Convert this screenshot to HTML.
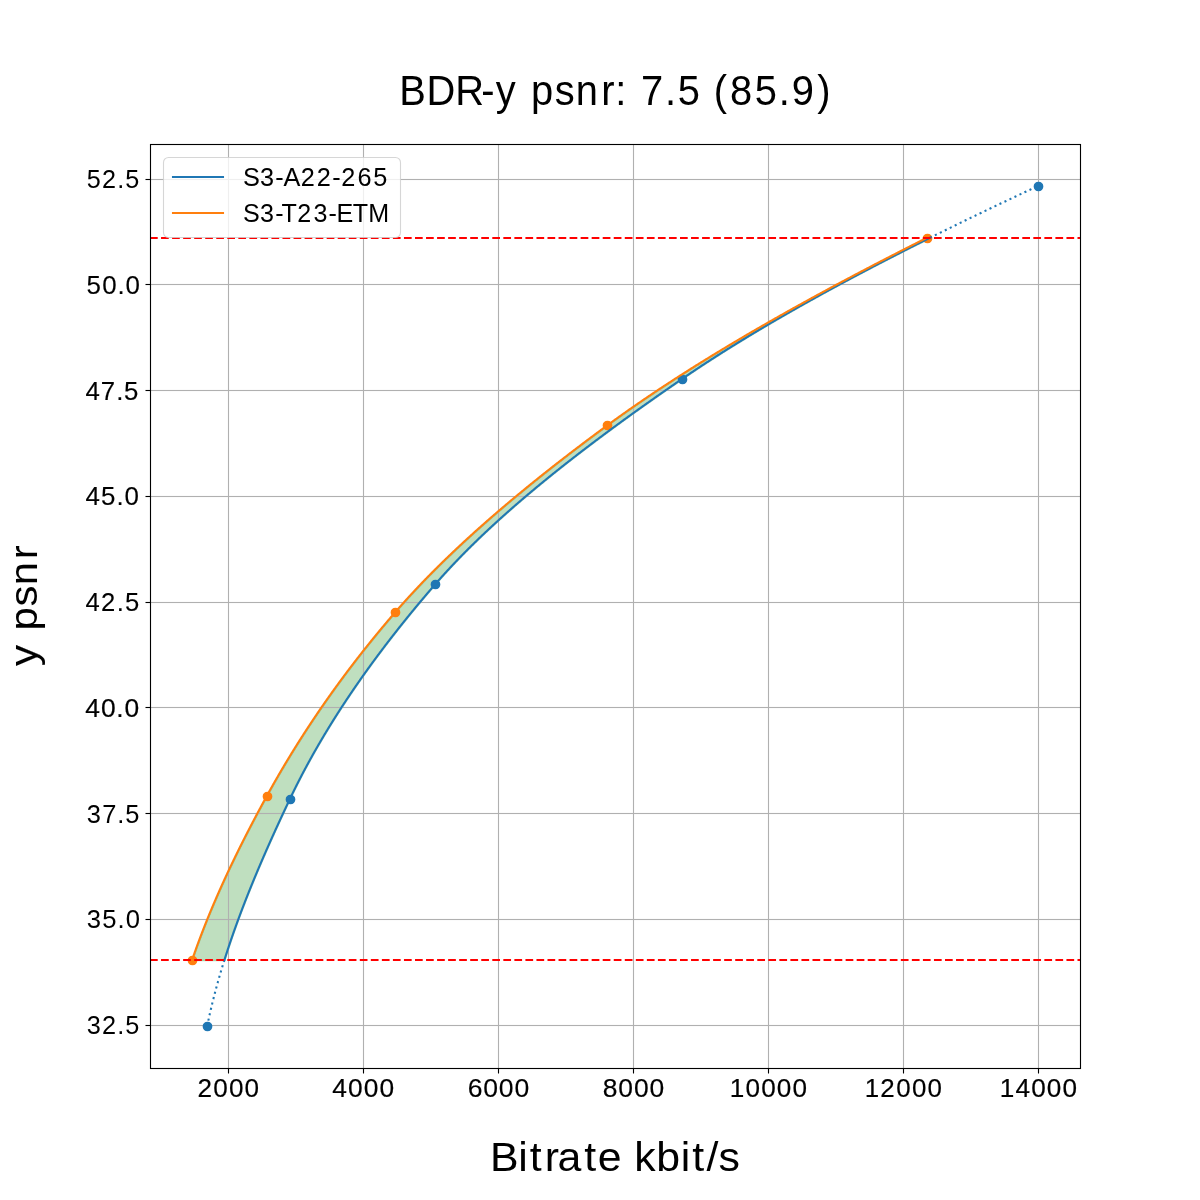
<!DOCTYPE html>
<html><head><meta charset="utf-8"><title>BDR-y psnr</title>
<style>html,body{margin:0;padding:0;background:#fff;} svg{display:block;will-change:transform;} text{font-family:"Liberation Sans", sans-serif;fill:#000;}</style>
</head><body>
<svg width="1200" height="1200" viewBox="0 0 1200 1200">
<defs><clipPath id="ax"><rect x="150" y="144" width="930" height="924"/></clipPath></defs>
<rect width="1200" height="1200" fill="#fff"/>
<path transform="translate(0.5 0.5)" fill="#008000" fill-opacity="0.25" stroke="#008000" stroke-opacity="0.25" stroke-width="1.3889" d="M224.39 960.03 L224.58 959.42 L224.77 958.82 L224.96 958.22 L225.15 957.62 L225.34 957.01 L225.53 956.41 L225.72 955.81 L225.91 955.21 L226.11 954.6 L226.3 954 L226.49 953.4 L226.69 952.8 L226.88 952.19 L227.08 951.59 L227.28 950.99 L227.47 950.39 L227.67 949.79 L227.87 949.18 L228.07 948.58 L228.27 947.98 L228.47 947.38 L228.67 946.77 L228.87 946.17 L229.07 945.57 L229.27 944.97 L229.47 944.36 L229.67 943.76 L229.87 943.16 L230.08 942.56 L230.28 941.95 L230.49 941.35 L230.69 940.75 L230.9 940.15 L231.1 939.54 L231.31 938.94 L231.52 938.34 L231.72 937.74 L231.93 937.14 L232.14 936.53 L232.35 935.93 L232.56 935.33 L232.77 934.73 L232.98 934.12 L233.19 933.52 L233.4 932.92 L233.61 932.32 L233.82 931.71 L234.04 931.11 L234.25 930.51 L234.46 929.91 L234.68 929.3 L234.89 928.7 L235.11 928.1 L235.32 927.5 L235.54 926.9 L235.75 926.29 L235.97 925.69 L236.19 925.09 L236.41 924.49 L236.62 923.88 L236.84 923.28 L237.06 922.68 L237.28 922.08 L237.5 921.47 L237.72 920.87 L237.94 920.27 L238.16 919.67 L238.39 919.06 L238.61 918.46 L238.83 917.86 L239.05 917.26 L239.28 916.65 L239.5 916.05 L239.73 915.45 L239.95 914.85 L240.18 914.25 L240.4 913.64 L240.63 913.04 L240.85 912.44 L241.08 911.84 L241.31 911.23 L241.54 910.63 L241.77 910.03 L241.99 909.43 L242.22 908.82 L242.45 908.22 L242.68 907.62 L242.91 907.02 L243.15 906.41 L243.38 905.81 L243.61 905.21 L243.84 904.61 L244.07 904.01 L244.31 903.4 L244.54 902.8 L244.77 902.2 L245.01 901.6 L245.24 900.99 L245.48 900.39 L245.71 899.79 L245.95 899.19 L246.19 898.58 L246.42 897.98 L246.66 897.38 L246.9 896.78 L247.14 896.17 L247.37 895.57 L247.61 894.97 L247.85 894.37 L248.09 893.77 L248.33 893.16 L248.57 892.56 L248.81 891.96 L249.05 891.36 L249.29 890.75 L249.54 890.15 L249.78 889.55 L250.02 888.95 L250.26 888.34 L250.51 887.74 L250.75 887.14 L251 886.54 L251.24 885.93 L251.49 885.33 L251.73 884.73 L251.98 884.13 L252.22 883.52 L252.47 882.92 L252.72 882.32 L252.96 881.72 L253.21 881.12 L253.46 880.51 L253.71 879.91 L253.96 879.31 L254.2 878.71 L254.45 878.1 L254.7 877.5 L254.95 876.9 L255.2 876.3 L255.45 875.69 L255.71 875.09 L255.96 874.49 L256.21 873.89 L256.46 873.28 L256.71 872.68 L256.97 872.08 L257.22 871.48 L257.47 870.88 L257.73 870.27 L257.98 869.67 L258.24 869.07 L258.49 868.47 L258.75 867.86 L259 867.26 L259.26 866.66 L259.52 866.06 L259.77 865.45 L260.03 864.85 L260.29 864.25 L260.54 863.65 L260.8 863.04 L261.06 862.44 L261.32 861.84 L261.58 861.24 L261.84 860.64 L262.1 860.03 L262.36 859.43 L262.62 858.83 L262.88 858.23 L263.14 857.62 L263.4 857.02 L263.66 856.42 L263.92 855.82 L264.19 855.21 L264.45 854.61 L264.71 854.01 L264.97 853.41 L265.24 852.8 L265.5 852.2 L265.77 851.6 L266.03 851 L266.29 850.39 L266.56 849.79 L266.82 849.19 L267.09 848.59 L267.36 847.99 L267.62 847.38 L267.89 846.78 L268.16 846.18 L268.42 845.58 L268.69 844.97 L268.96 844.37 L269.23 843.77 L269.49 843.17 L269.76 842.56 L270.03 841.96 L270.3 841.36 L270.57 840.76 L270.84 840.15 L271.11 839.55 L271.38 838.95 L271.65 838.35 L271.92 837.75 L272.19 837.14 L272.46 836.54 L272.73 835.94 L273.01 835.34 L273.28 834.73 L273.55 834.13 L273.82 833.53 L274.1 832.93 L274.37 832.32 L274.64 831.72 L274.92 831.12 L275.19 830.52 L275.46 829.91 L275.74 829.31 L276.01 828.71 L276.29 828.11 L276.56 827.51 L276.84 826.9 L277.12 826.3 L277.39 825.7 L277.67 825.1 L277.94 824.49 L278.22 823.89 L278.5 823.29 L278.78 822.69 L279.05 822.08 L279.33 821.48 L279.61 820.88 L279.89 820.28 L280.17 819.67 L280.44 819.07 L280.72 818.47 L281 817.87 L281.28 817.26 L281.56 816.66 L281.84 816.06 L282.12 815.46 L282.4 814.86 L282.68 814.25 L282.96 813.65 L283.24 813.05 L283.53 812.45 L283.81 811.84 L284.09 811.24 L284.37 810.64 L284.65 810.04 L284.94 809.43 L285.22 808.83 L285.5 808.23 L285.78 807.63 L286.07 807.02 L286.35 806.42 L286.63 805.82 L286.92 805.22 L287.2 804.62 L287.49 804.01 L287.77 803.41 L288.06 802.81 L288.34 802.21 L288.62 801.6 L288.91 801 L289.2 800.4 L289.48 799.8 L289.77 799.19 L290.05 798.59 L290.34 797.99 L290.63 797.39 L290.92 796.78 L291.21 796.18 L291.49 795.58 L291.79 794.98 L292.08 794.37 L292.37 793.77 L292.66 793.17 L292.95 792.57 L293.25 791.97 L293.54 791.36 L293.84 790.76 L294.13 790.16 L294.43 789.56 L294.73 788.95 L295.03 788.35 L295.33 787.75 L295.63 787.15 L295.93 786.54 L296.23 785.94 L296.53 785.34 L296.83 784.74 L297.14 784.13 L297.44 783.53 L297.74 782.93 L298.05 782.33 L298.36 781.73 L298.66 781.12 L298.97 780.52 L299.28 779.92 L299.59 779.32 L299.9 778.71 L300.21 778.11 L300.52 777.51 L300.83 776.91 L301.14 776.3 L301.46 775.7 L301.77 775.1 L302.09 774.5 L302.4 773.89 L302.72 773.29 L303.03 772.69 L303.35 772.09 L303.67 771.49 L303.99 770.88 L304.31 770.28 L304.63 769.68 L304.95 769.08 L305.27 768.47 L305.59 767.87 L305.92 767.27 L306.24 766.67 L306.57 766.06 L306.89 765.46 L307.22 764.86 L307.54 764.26 L307.87 763.65 L308.2 763.05 L308.53 762.45 L308.86 761.85 L309.19 761.24 L309.52 760.64 L309.85 760.04 L310.18 759.44 L310.51 758.84 L310.85 758.23 L311.18 757.63 L311.52 757.03 L311.85 756.43 L312.19 755.82 L312.53 755.22 L312.86 754.62 L313.2 754.02 L313.54 753.41 L313.88 752.81 L314.22 752.21 L314.56 751.61 L314.91 751 L315.25 750.4 L315.59 749.8 L315.94 749.2 L316.28 748.6 L316.63 747.99 L316.97 747.39 L317.32 746.79 L317.67 746.19 L318.02 745.58 L318.36 744.98 L318.71 744.38 L319.06 743.78 L319.42 743.17 L319.77 742.57 L320.12 741.97 L320.47 741.37 L320.83 740.76 L321.18 740.16 L321.54 739.56 L321.89 738.96 L322.25 738.36 L322.61 737.75 L322.96 737.15 L323.32 736.55 L323.68 735.95 L324.04 735.34 L324.4 734.74 L324.76 734.14 L325.13 733.54 L325.49 732.93 L325.85 732.33 L326.22 731.73 L326.58 731.13 L326.95 730.52 L327.31 729.92 L327.68 729.32 L328.05 728.72 L328.42 728.11 L328.78 727.51 L329.15 726.91 L329.52 726.31 L329.9 725.71 L330.27 725.1 L330.64 724.5 L331.01 723.9 L331.39 723.3 L331.76 722.69 L332.14 722.09 L332.51 721.49 L332.89 720.89 L333.26 720.28 L333.64 719.68 L334.02 719.08 L334.4 718.48 L334.78 717.87 L335.16 717.27 L335.54 716.67 L335.92 716.07 L336.31 715.47 L336.69 714.86 L337.07 714.26 L337.46 713.66 L337.84 713.06 L338.23 712.45 L338.61 711.85 L339 711.25 L339.39 710.65 L339.78 710.04 L340.17 709.44 L340.56 708.84 L340.95 708.24 L341.34 707.63 L341.73 707.03 L342.12 706.43 L342.52 705.83 L342.91 705.23 L343.31 704.62 L343.7 704.02 L344.1 703.42 L344.49 702.82 L344.89 702.21 L345.29 701.61 L345.69 701.01 L346.09 700.41 L346.49 699.8 L346.89 699.2 L347.29 698.6 L347.69 698 L348.09 697.39 L348.5 696.79 L348.9 696.19 L349.31 695.59 L349.71 694.98 L350.12 694.38 L350.52 693.78 L350.93 693.18 L351.34 692.58 L351.75 691.97 L352.16 691.37 L352.57 690.77 L352.98 690.17 L353.39 689.56 L353.8 688.96 L354.21 688.36 L354.63 687.76 L355.04 687.15 L355.45 686.55 L355.87 685.95 L356.29 685.35 L356.7 684.74 L357.12 684.14 L357.54 683.54 L357.96 682.94 L358.38 682.34 L358.8 681.73 L359.22 681.13 L359.64 680.53 L360.06 679.93 L360.48 679.32 L360.9 678.72 L361.33 678.12 L361.75 677.52 L362.18 676.91 L362.6 676.31 L363.03 675.71 L363.46 675.11 L363.89 674.5 L364.31 673.9 L364.74 673.3 L365.17 672.7 L365.6 672.09 L366.03 671.49 L366.47 670.89 L366.9 670.29 L367.33 669.69 L367.76 669.08 L368.2 668.48 L368.63 667.88 L369.07 667.28 L369.51 666.67 L369.94 666.07 L370.38 665.47 L370.82 664.87 L371.26 664.26 L371.7 663.66 L372.14 663.06 L372.58 662.46 L373.02 661.85 L373.46 661.25 L373.9 660.65 L374.35 660.05 L374.79 659.45 L375.24 658.84 L375.68 658.24 L376.13 657.64 L376.57 657.04 L377.02 656.43 L377.47 655.83 L377.92 655.23 L378.37 654.63 L378.82 654.02 L379.27 653.42 L379.72 652.82 L380.17 652.22 L380.62 651.61 L381.08 651.01 L381.53 650.41 L381.98 649.81 L382.44 649.21 L382.9 648.6 L383.35 648 L383.81 647.4 L384.27 646.8 L384.72 646.19 L385.18 645.59 L385.64 644.99 L386.1 644.39 L386.56 643.78 L387.03 643.18 L387.49 642.58 L387.95 641.98 L388.41 641.37 L388.88 640.77 L389.34 640.17 L389.81 639.57 L390.27 638.96 L390.74 638.36 L391.21 637.76 L391.68 637.16 L392.14 636.56 L392.61 635.95 L393.08 635.35 L393.55 634.75 L394.02 634.15 L394.5 633.54 L394.97 632.94 L395.44 632.34 L395.91 631.74 L396.39 631.13 L396.86 630.53 L397.34 629.93 L397.81 629.33 L398.29 628.72 L398.77 628.12 L399.25 627.52 L399.72 626.92 L400.2 626.32 L400.68 625.71 L401.16 625.11 L401.65 624.51 L402.13 623.91 L402.61 623.3 L403.09 622.7 L403.58 622.1 L404.06 621.5 L404.55 620.89 L405.03 620.29 L405.52 619.69 L406 619.09 L406.49 618.48 L406.98 617.88 L407.47 617.28 L407.96 616.68 L408.45 616.08 L408.94 615.47 L409.43 614.87 L409.92 614.27 L410.41 613.67 L410.91 613.06 L411.4 612.46 L411.89 611.86 L412.39 611.26 L412.88 610.65 L413.38 610.05 L413.88 609.45 L414.37 608.85 L414.87 608.24 L415.37 607.64 L415.87 607.04 L416.37 606.44 L416.87 605.83 L417.37 605.23 L417.87 604.63 L418.38 604.03 L418.88 603.43 L419.38 602.82 L419.89 602.22 L420.39 601.62 L420.9 601.02 L421.4 600.41 L421.91 599.81 L422.42 599.21 L422.92 598.61 L423.43 598 L423.94 597.4 L424.45 596.8 L424.96 596.2 L425.47 595.59 L425.98 594.99 L426.5 594.39 L427.01 593.79 L427.52 593.19 L428.04 592.58 L428.55 591.98 L429.07 591.38 L429.58 590.78 L430.1 590.17 L430.62 589.57 L431.13 588.97 L431.65 588.37 L432.17 587.76 L432.69 587.16 L433.21 586.56 L433.73 585.96 L434.25 585.35 L434.77 584.75 L435.3 584.15 L435.82 583.55 L436.35 582.94 L436.87 582.34 L437.4 581.74 L437.93 581.14 L438.46 580.54 L438.99 579.93 L439.53 579.33 L440.06 578.73 L440.6 578.13 L441.14 577.52 L441.68 576.92 L442.22 576.32 L442.76 575.72 L443.3 575.11 L443.85 574.51 L444.39 573.91 L444.94 573.31 L445.49 572.7 L446.04 572.1 L446.6 571.5 L447.15 570.9 L447.7 570.3 L448.26 569.69 L448.82 569.09 L449.38 568.49 L449.94 567.89 L450.5 567.28 L451.06 566.68 L451.63 566.08 L452.19 565.48 L452.76 564.87 L453.33 564.27 L453.9 563.67 L454.47 563.07 L455.05 562.46 L455.62 561.86 L456.2 561.26 L456.77 560.66 L457.35 560.06 L457.93 559.45 L458.51 558.85 L459.1 558.25 L459.68 557.65 L460.27 557.04 L460.85 556.44 L461.44 555.84 L462.03 555.24 L462.62 554.63 L463.21 554.03 L463.81 553.43 L464.4 552.83 L465 552.22 L465.59 551.62 L466.19 551.02 L466.79 550.42 L467.39 549.81 L468 549.21 L468.6 548.61 L469.2 548.01 L469.81 547.41 L470.42 546.8 L471.03 546.2 L471.64 545.6 L472.25 545 L472.86 544.39 L473.48 543.79 L474.09 543.19 L474.71 542.59 L475.33 541.98 L475.95 541.38 L476.57 540.78 L477.19 540.18 L477.82 539.57 L478.44 538.97 L479.07 538.37 L479.69 537.77 L480.32 537.17 L480.95 536.56 L481.58 535.96 L482.21 535.36 L482.85 534.76 L483.48 534.15 L484.12 533.55 L484.76 532.95 L485.39 532.35 L486.03 531.74 L486.68 531.14 L487.32 530.54 L487.96 529.94 L488.61 529.33 L489.25 528.73 L489.9 528.13 L490.55 527.53 L491.2 526.93 L491.85 526.32 L492.5 525.72 L493.15 525.12 L493.81 524.52 L494.46 523.91 L495.12 523.31 L495.78 522.71 L496.44 522.11 L497.1 521.5 L497.76 520.9 L498.42 520.3 L499.09 519.7 L499.75 519.09 L500.42 518.49 L501.09 517.89 L501.76 517.29 L502.43 516.68 L503.1 516.08 L503.77 515.48 L504.45 514.88 L505.12 514.28 L505.8 513.67 L506.47 513.07 L507.15 512.47 L507.83 511.87 L508.51 511.26 L509.2 510.66 L509.88 510.06 L510.56 509.46 L511.25 508.85 L511.93 508.25 L512.62 507.65 L513.31 507.05 L514 506.44 L514.69 505.84 L515.38 505.24 L516.08 504.64 L516.77 504.04 L517.47 503.43 L518.17 502.83 L518.86 502.23 L519.56 501.63 L520.26 501.02 L520.96 500.42 L521.67 499.82 L522.37 499.22 L523.08 498.61 L523.78 498.01 L524.49 497.41 L525.2 496.81 L525.91 496.2 L526.62 495.6 L527.33 495 L528.04 494.4 L528.75 493.8 L529.47 493.19 L530.18 492.59 L530.9 491.99 L531.62 491.39 L532.34 490.78 L533.06 490.18 L533.78 489.58 L534.5 488.98 L535.22 488.37 L535.95 487.77 L536.67 487.17 L537.4 486.57 L538.13 485.96 L538.86 485.36 L539.59 484.76 L540.32 484.16 L541.05 483.55 L541.78 482.95 L542.52 482.35 L543.25 481.75 L543.99 481.15 L544.72 480.54 L545.46 479.94 L546.2 479.34 L546.94 478.74 L547.68 478.13 L548.43 477.53 L549.17 476.93 L549.91 476.33 L550.66 475.72 L551.4 475.12 L552.15 474.52 L552.9 473.92 L553.65 473.31 L554.4 472.71 L555.15 472.11 L555.9 471.51 L556.66 470.91 L557.41 470.3 L558.17 469.7 L558.92 469.1 L559.68 468.5 L560.44 467.89 L561.2 467.29 L561.96 466.69 L562.72 466.09 L563.48 465.48 L564.25 464.88 L565.01 464.28 L565.78 463.68 L566.54 463.07 L567.31 462.47 L568.08 461.87 L568.85 461.27 L569.62 460.66 L570.39 460.06 L571.16 459.46 L571.93 458.86 L572.71 458.26 L573.48 457.65 L574.26 457.05 L575.04 456.45 L575.81 455.85 L576.59 455.24 L577.37 454.64 L578.15 454.04 L578.93 453.44 L579.72 452.83 L580.5 452.23 L581.29 451.63 L582.07 451.03 L582.86 450.42 L583.64 449.82 L584.43 449.22 L585.22 448.62 L586.01 448.02 L586.8 447.41 L587.59 446.81 L588.39 446.21 L589.18 445.61 L589.97 445 L590.77 444.4 L591.57 443.8 L592.36 443.2 L593.16 442.59 L593.96 441.99 L594.76 441.39 L595.56 440.79 L596.36 440.18 L597.16 439.58 L597.97 438.98 L598.77 438.38 L599.58 437.78 L600.38 437.17 L601.19 436.57 L602 435.97 L602.8 435.37 L603.61 434.76 L604.42 434.16 L605.24 433.56 L606.05 432.96 L606.86 432.35 L607.67 431.75 L608.49 431.15 L609.3 430.55 L610.12 429.94 L610.94 429.34 L611.75 428.74 L612.57 428.14 L613.39 427.53 L614.21 426.93 L615.03 426.33 L615.86 425.73 L616.68 425.13 L617.5 424.52 L618.33 423.92 L619.15 423.32 L619.98 422.72 L620.8 422.11 L621.63 421.51 L622.46 420.91 L623.29 420.31 L624.12 419.7 L624.95 419.1 L625.78 418.5 L626.62 417.9 L627.45 417.29 L628.28 416.69 L629.12 416.09 L629.95 415.49 L630.79 414.89 L631.63 414.28 L632.46 413.68 L633.3 413.08 L634.14 412.48 L634.98 411.87 L635.82 411.27 L636.67 410.67 L637.51 410.07 L638.35 409.46 L639.2 408.86 L640.04 408.26 L640.89 407.66 L641.73 407.05 L642.58 406.45 L643.43 405.85 L644.28 405.25 L645.13 404.65 L645.98 404.04 L646.83 403.44 L647.68 402.84 L648.53 402.24 L649.38 401.63 L650.24 401.03 L651.09 400.43 L651.95 399.83 L652.8 399.22 L653.66 398.62 L654.52 398.02 L655.37 397.42 L656.23 396.81 L657.09 396.21 L657.95 395.61 L658.81 395.01 L659.67 394.4 L660.54 393.8 L661.4 393.2 L662.26 392.6 L663.13 392 L663.99 391.39 L664.86 390.79 L665.72 390.19 L666.59 389.59 L667.46 388.98 L668.33 388.38 L669.2 387.78 L670.07 387.18 L670.94 386.57 L671.81 385.97 L672.68 385.37 L673.55 384.77 L674.42 384.16 L675.3 383.56 L676.17 382.96 L677.05 382.36 L677.92 381.76 L678.8 381.15 L679.68 380.55 L680.55 379.95 L681.43 379.35 L682.31 378.74 L683.19 378.14 L684.07 377.54 L684.96 376.94 L685.84 376.33 L686.73 375.73 L687.62 375.13 L688.51 374.53 L689.4 373.92 L690.3 373.32 L691.19 372.72 L692.09 372.12 L692.99 371.52 L693.89 370.91 L694.79 370.31 L695.7 369.71 L696.6 369.11 L697.51 368.5 L698.42 367.9 L699.33 367.3 L700.25 366.7 L701.16 366.09 L702.08 365.49 L702.99 364.89 L703.91 364.29 L704.84 363.68 L705.76 363.08 L706.68 362.48 L707.61 361.88 L708.54 361.27 L709.47 360.67 L710.4 360.07 L711.33 359.47 L712.26 358.87 L713.2 358.26 L714.14 357.66 L715.08 357.06 L716.02 356.46 L716.96 355.85 L717.91 355.25 L718.85 354.65 L719.8 354.05 L720.75 353.44 L721.7 352.84 L722.65 352.24 L723.61 351.64 L724.56 351.03 L725.52 350.43 L726.48 349.83 L727.44 349.23 L728.4 348.63 L729.36 348.02 L730.33 347.42 L731.3 346.82 L732.27 346.22 L733.24 345.61 L734.21 345.01 L735.18 344.41 L736.15 343.81 L737.13 343.2 L738.11 342.6 L739.09 342 L740.07 341.4 L741.05 340.79 L742.04 340.19 L743.02 339.59 L744.01 338.99 L745 338.38 L745.99 337.78 L746.98 337.18 L747.98 336.58 L748.97 335.98 L749.97 335.37 L750.97 334.77 L751.97 334.17 L752.97 333.57 L753.97 332.96 L754.97 332.36 L755.98 331.76 L756.99 331.16 L758 330.55 L759.01 329.95 L760.02 329.35 L761.03 328.75 L762.05 328.14 L763.06 327.54 L764.08 326.94 L765.1 326.34 L766.12 325.74 L767.15 325.13 L768.17 324.53 L769.2 323.93 L770.22 323.33 L771.25 322.72 L772.28 322.12 L773.31 321.52 L774.35 320.92 L775.38 320.31 L776.42 319.71 L777.45 319.11 L778.49 318.51 L779.53 317.9 L780.58 317.3 L781.62 316.7 L782.66 316.1 L783.71 315.5 L784.76 314.89 L785.81 314.29 L786.86 313.69 L787.91 313.09 L788.96 312.48 L790.02 311.88 L791.07 311.28 L792.13 310.68 L793.19 310.07 L794.25 309.47 L795.31 308.87 L796.38 308.27 L797.44 307.66 L798.51 307.06 L799.58 306.46 L800.65 305.86 L801.72 305.25 L802.79 304.65 L803.86 304.05 L804.94 303.45 L806.01 302.85 L807.09 302.24 L808.17 301.64 L809.25 301.04 L810.33 300.44 L811.42 299.83 L812.5 299.23 L813.59 298.63 L814.67 298.03 L815.76 297.42 L816.85 296.82 L817.94 296.22 L819.04 295.62 L820.13 295.01 L821.23 294.41 L822.32 293.81 L823.42 293.21 L824.52 292.61 L825.62 292 L826.73 291.4 L827.83 290.8 L828.94 290.2 L830.04 289.59 L831.15 288.99 L832.26 288.39 L833.37 287.79 L834.48 287.18 L835.59 286.58 L836.71 285.98 L837.83 285.38 L838.94 284.77 L840.06 284.17 L841.18 283.57 L842.3 282.97 L843.42 282.37 L844.55 281.76 L845.67 281.16 L846.8 280.56 L847.93 279.96 L849.06 279.35 L850.19 278.75 L851.32 278.15 L852.45 277.55 L853.59 276.94 L854.72 276.34 L855.86 275.74 L857 275.14 L858.14 274.53 L859.28 273.93 L860.42 273.33 L861.56 272.73 L862.71 272.12 L863.85 271.52 L865 270.92 L866.15 270.32 L867.3 269.72 L868.45 269.11 L869.6 268.51 L870.75 267.91 L871.91 267.31 L873.06 266.7 L874.22 266.1 L875.38 265.5 L876.54 264.9 L877.7 264.29 L878.86 263.69 L880.02 263.09 L881.19 262.49 L882.35 261.88 L883.52 261.28 L884.69 260.68 L885.86 260.08 L887.03 259.48 L888.2 258.87 L889.37 258.27 L890.55 257.67 L891.72 257.07 L892.9 256.46 L894.07 255.86 L895.25 255.26 L896.43 254.66 L897.62 254.05 L898.8 253.45 L899.98 252.85 L901.17 252.25 L902.35 251.64 L903.54 251.04 L904.73 250.44 L905.92 249.84 L907.11 249.23 L908.3 248.63 L909.49 248.03 L910.69 247.43 L911.88 246.83 L913.08 246.22 L914.28 245.62 L915.48 245.02 L916.68 244.42 L917.88 243.81 L919.08 243.21 L920.28 242.61 L921.49 242.01 L922.69 241.4 L923.9 240.8 L925.11 240.2 L926.32 239.6 L927.53 238.99 L928.74 238.39 L929.95 237.79 L926.89 237.79 L925.69 238.39 L924.49 238.99 L923.3 239.6 L922.1 240.2 L920.91 240.8 L919.72 241.4 L918.52 242.01 L917.33 242.61 L916.14 243.21 L914.95 243.81 L913.76 244.42 L912.57 245.02 L911.39 245.62 L910.2 246.22 L909.02 246.83 L907.83 247.43 L906.65 248.03 L905.47 248.63 L904.28 249.23 L903.1 249.84 L901.92 250.44 L900.74 251.04 L899.57 251.64 L898.39 252.25 L897.21 252.85 L896.04 253.45 L894.86 254.05 L893.69 254.66 L892.52 255.26 L891.35 255.86 L890.18 256.46 L889.01 257.07 L887.84 257.67 L886.67 258.27 L885.51 258.87 L884.34 259.48 L883.18 260.08 L882.01 260.68 L880.85 261.28 L879.69 261.88 L878.53 262.49 L877.37 263.09 L876.21 263.69 L875.05 264.29 L873.89 264.9 L872.74 265.5 L871.58 266.1 L870.43 266.7 L869.28 267.31 L868.12 267.91 L866.97 268.51 L865.82 269.11 L864.67 269.72 L863.53 270.32 L862.38 270.92 L861.23 271.52 L860.09 272.12 L858.94 272.73 L857.8 273.33 L856.66 273.93 L855.52 274.53 L854.38 275.14 L853.24 275.74 L852.1 276.34 L850.97 276.94 L849.83 277.55 L848.69 278.15 L847.56 278.75 L846.43 279.35 L845.3 279.96 L844.17 280.56 L843.04 281.16 L841.91 281.76 L840.78 282.37 L839.65 282.97 L838.53 283.57 L837.4 284.17 L836.28 284.77 L835.16 285.38 L834.04 285.98 L832.92 286.58 L831.8 287.18 L830.68 287.79 L829.56 288.39 L828.44 288.99 L827.33 289.59 L826.22 290.2 L825.1 290.8 L823.99 291.4 L822.88 292 L821.77 292.61 L820.66 293.21 L819.56 293.81 L818.45 294.41 L817.34 295.01 L816.24 295.62 L815.14 296.22 L814.03 296.82 L812.93 297.42 L811.83 298.03 L810.73 298.63 L809.64 299.23 L808.54 299.83 L807.44 300.44 L806.35 301.04 L805.26 301.64 L804.16 302.24 L803.07 302.85 L801.98 303.45 L800.89 304.05 L799.81 304.65 L798.72 305.25 L797.64 305.86 L796.55 306.46 L795.47 307.06 L794.39 307.66 L793.3 308.27 L792.22 308.87 L791.15 309.47 L790.07 310.07 L788.99 310.68 L787.92 311.28 L786.84 311.88 L785.77 312.48 L784.7 313.09 L783.63 313.69 L782.56 314.29 L781.49 314.89 L780.42 315.5 L779.36 316.1 L778.29 316.7 L777.23 317.3 L776.16 317.9 L775.1 318.51 L774.04 319.11 L772.98 319.71 L771.93 320.31 L770.87 320.92 L769.81 321.52 L768.76 322.12 L767.71 322.72 L766.65 323.33 L765.6 323.93 L764.55 324.53 L763.5 325.13 L762.46 325.74 L761.41 326.34 L760.37 326.94 L759.32 327.54 L758.28 328.14 L757.24 328.75 L756.2 329.35 L755.16 329.95 L754.12 330.55 L753.09 331.16 L752.05 331.76 L751.02 332.36 L749.98 332.96 L748.95 333.57 L747.92 334.17 L746.89 334.77 L745.86 335.37 L744.84 335.98 L743.81 336.58 L742.79 337.18 L741.76 337.78 L740.74 338.38 L739.72 338.99 L738.7 339.59 L737.68 340.19 L736.67 340.79 L735.65 341.4 L734.64 342 L733.62 342.6 L732.61 343.2 L731.6 343.81 L730.59 344.41 L729.59 345.01 L728.58 345.61 L727.57 346.22 L726.57 346.82 L725.57 347.42 L724.56 348.02 L723.56 348.63 L722.56 349.23 L721.57 349.83 L720.57 350.43 L719.57 351.03 L718.58 351.64 L717.59 352.24 L716.6 352.84 L715.61 353.44 L714.62 354.05 L713.63 354.65 L712.64 355.25 L711.66 355.85 L710.67 356.46 L709.69 357.06 L708.71 357.66 L707.73 358.26 L706.75 358.87 L705.77 359.47 L704.8 360.07 L703.82 360.67 L702.85 361.27 L701.88 361.88 L700.91 362.48 L699.94 363.08 L698.97 363.68 L698 364.29 L697.04 364.89 L696.07 365.49 L695.11 366.09 L694.15 366.7 L693.19 367.3 L692.23 367.9 L691.27 368.5 L690.32 369.11 L689.36 369.71 L688.41 370.31 L687.46 370.91 L686.51 371.52 L685.56 372.12 L684.61 372.72 L683.66 373.32 L682.72 373.92 L681.77 374.53 L680.83 375.13 L679.89 375.73 L678.95 376.33 L678.01 376.94 L677.08 377.54 L676.14 378.14 L675.21 378.74 L674.27 379.35 L673.34 379.95 L672.41 380.55 L671.48 381.15 L670.56 381.76 L669.63 382.36 L668.7 382.96 L667.78 383.56 L666.86 384.16 L665.94 384.77 L665.02 385.37 L664.1 385.97 L663.19 386.57 L662.27 387.18 L661.36 387.78 L660.45 388.38 L659.54 388.98 L658.63 389.59 L657.72 390.19 L656.81 390.79 L655.91 391.39 L655 392 L654.1 392.6 L653.2 393.2 L652.3 393.8 L651.41 394.4 L650.51 395.01 L649.61 395.61 L648.72 396.21 L647.83 396.81 L646.94 397.42 L646.05 398.02 L645.16 398.62 L644.28 399.22 L643.39 399.83 L642.51 400.43 L641.63 401.03 L640.75 401.63 L639.87 402.24 L638.99 402.84 L638.11 403.44 L637.24 404.04 L636.37 404.65 L635.49 405.25 L634.62 405.85 L633.75 406.45 L632.89 407.05 L632.02 407.66 L631.16 408.26 L630.3 408.86 L629.43 409.46 L628.57 410.07 L627.72 410.67 L626.86 411.27 L626 411.87 L625.15 412.48 L624.3 413.08 L623.45 413.68 L622.6 414.28 L621.75 414.89 L620.9 415.49 L620.06 416.09 L619.22 416.69 L618.37 417.29 L617.53 417.9 L616.69 418.5 L615.86 419.1 L615.02 419.7 L614.19 420.31 L613.36 420.91 L612.52 421.51 L611.69 422.11 L610.87 422.72 L610.04 423.32 L609.21 423.92 L608.39 424.52 L607.57 425.13 L606.75 425.73 L605.93 426.33 L605.11 426.93 L604.29 427.53 L603.47 428.14 L602.66 428.74 L601.84 429.34 L601.03 429.94 L600.21 430.55 L599.4 431.15 L598.58 431.75 L597.77 432.35 L596.96 432.96 L596.15 433.56 L595.34 434.16 L594.53 434.76 L593.72 435.37 L592.91 435.97 L592.1 436.57 L591.3 437.17 L590.49 437.78 L589.69 438.38 L588.88 438.98 L588.08 439.58 L587.28 440.18 L586.47 440.79 L585.67 441.39 L584.87 441.99 L584.07 442.59 L583.27 443.2 L582.48 443.8 L581.68 444.4 L580.88 445 L580.09 445.61 L579.29 446.21 L578.5 446.81 L577.7 447.41 L576.91 448.02 L576.12 448.62 L575.33 449.22 L574.54 449.82 L573.75 450.42 L572.96 451.03 L572.17 451.63 L571.38 452.23 L570.59 452.83 L569.81 453.44 L569.02 454.04 L568.24 454.64 L567.46 455.24 L566.67 455.85 L565.89 456.45 L565.11 457.05 L564.33 457.65 L563.55 458.26 L562.77 458.86 L561.99 459.46 L561.22 460.06 L560.44 460.66 L559.67 461.27 L558.89 461.87 L558.12 462.47 L557.34 463.07 L556.57 463.68 L555.8 464.28 L555.03 464.88 L554.26 465.48 L553.49 466.09 L552.72 466.69 L551.96 467.29 L551.19 467.89 L550.42 468.5 L549.66 469.1 L548.9 469.7 L548.13 470.3 L547.37 470.91 L546.61 471.51 L545.85 472.11 L545.09 472.71 L544.33 473.31 L543.57 473.92 L542.82 474.52 L542.06 475.12 L541.3 475.72 L540.55 476.33 L539.8 476.93 L539.04 477.53 L538.29 478.13 L537.54 478.74 L536.79 479.34 L536.04 479.94 L535.29 480.54 L534.54 481.15 L533.8 481.75 L533.05 482.35 L532.31 482.95 L531.56 483.55 L530.82 484.16 L530.07 484.76 L529.33 485.36 L528.59 485.96 L527.85 486.57 L527.11 487.17 L526.38 487.77 L525.64 488.37 L524.9 488.98 L524.17 489.58 L523.43 490.18 L522.7 490.78 L521.97 491.39 L521.23 491.99 L520.5 492.59 L519.77 493.19 L519.04 493.8 L518.31 494.4 L517.59 495 L516.86 495.6 L516.14 496.2 L515.41 496.81 L514.69 497.41 L513.96 498.01 L513.24 498.61 L512.52 499.22 L511.8 499.82 L511.08 500.42 L510.36 501.02 L509.65 501.63 L508.93 502.23 L508.21 502.83 L507.5 503.43 L506.79 504.04 L506.07 504.64 L505.36 505.24 L504.65 505.84 L503.94 506.44 L503.23 507.05 L502.52 507.65 L501.82 508.25 L501.11 508.85 L500.4 509.46 L499.7 510.06 L499 510.66 L498.29 511.26 L497.59 511.87 L496.89 512.47 L496.19 513.07 L495.49 513.67 L494.8 514.28 L494.1 514.88 L493.4 515.48 L492.71 516.08 L492.01 516.68 L491.32 517.29 L490.63 517.89 L489.94 518.49 L489.25 519.09 L488.56 519.7 L487.87 520.3 L487.18 520.9 L486.5 521.5 L485.81 522.11 L485.13 522.71 L484.44 523.31 L483.76 523.91 L483.08 524.52 L482.4 525.12 L481.72 525.72 L481.04 526.32 L480.37 526.93 L479.69 527.53 L479.01 528.13 L478.34 528.73 L477.67 529.33 L476.99 529.94 L476.32 530.54 L475.65 531.14 L474.98 531.74 L474.31 532.35 L473.65 532.95 L472.98 533.55 L472.32 534.15 L471.65 534.76 L470.99 535.36 L470.33 535.96 L469.66 536.56 L469 537.17 L468.34 537.77 L467.69 538.37 L467.03 538.97 L466.37 539.57 L465.72 540.18 L465.06 540.78 L464.41 541.38 L463.76 541.98 L463.11 542.59 L462.46 543.19 L461.81 543.79 L461.16 544.39 L460.51 545 L459.87 545.6 L459.22 546.2 L458.58 546.8 L457.93 547.41 L457.29 548.01 L456.65 548.61 L456.01 549.21 L455.37 549.81 L454.74 550.42 L454.1 551.02 L453.46 551.62 L452.83 552.22 L452.2 552.83 L451.56 553.43 L450.93 554.03 L450.3 554.63 L449.67 555.24 L449.04 555.84 L448.42 556.44 L447.79 557.04 L447.17 557.65 L446.54 558.25 L445.92 558.85 L445.3 559.45 L444.68 560.06 L444.06 560.66 L443.44 561.26 L442.82 561.86 L442.21 562.46 L441.59 563.07 L440.98 563.67 L440.36 564.27 L439.75 564.87 L439.14 565.48 L438.53 566.08 L437.92 566.68 L437.32 567.28 L436.71 567.89 L436.1 568.49 L435.5 569.09 L434.9 569.69 L434.29 570.3 L433.69 570.9 L433.09 571.5 L432.49 572.1 L431.9 572.7 L431.3 573.31 L430.7 573.91 L430.11 574.51 L429.52 575.11 L428.93 575.72 L428.33 576.32 L427.74 576.92 L427.16 577.52 L426.57 578.13 L425.98 578.73 L425.4 579.33 L424.81 579.93 L424.23 580.54 L423.65 581.14 L423.07 581.74 L422.49 582.34 L421.91 582.94 L421.33 583.55 L420.75 584.15 L420.18 584.75 L419.6 585.35 L419.03 585.96 L418.46 586.56 L417.89 587.16 L417.32 587.76 L416.75 588.37 L416.19 588.97 L415.62 589.57 L415.05 590.17 L414.49 590.78 L413.93 591.38 L413.37 591.98 L412.81 592.58 L412.25 593.19 L411.69 593.79 L411.13 594.39 L410.58 594.99 L410.02 595.59 L409.47 596.2 L408.92 596.8 L408.37 597.4 L407.82 598 L407.27 598.61 L406.72 599.21 L406.18 599.81 L405.63 600.41 L405.09 601.02 L404.55 601.62 L404 602.22 L403.46 602.82 L402.92 603.43 L402.39 604.03 L401.85 604.63 L401.32 605.23 L400.78 605.83 L400.25 606.44 L399.72 607.04 L399.19 607.64 L398.66 608.24 L398.13 608.85 L397.6 609.45 L397.08 610.05 L396.55 610.65 L396.03 611.26 L395.51 611.86 L394.98 612.46 L394.46 613.06 L393.94 613.67 L393.43 614.27 L392.91 614.87 L392.39 615.47 L391.87 616.08 L391.36 616.68 L390.84 617.28 L390.33 617.88 L389.82 618.48 L389.3 619.09 L388.79 619.69 L388.28 620.29 L387.77 620.89 L387.26 621.5 L386.75 622.1 L386.24 622.7 L385.73 623.3 L385.22 623.91 L384.72 624.51 L384.21 625.11 L383.71 625.71 L383.2 626.32 L382.7 626.92 L382.2 627.52 L381.69 628.12 L381.19 628.72 L380.69 629.33 L380.19 629.93 L379.69 630.53 L379.19 631.13 L378.69 631.74 L378.2 632.34 L377.7 632.94 L377.2 633.54 L376.71 634.15 L376.21 634.75 L375.72 635.35 L375.22 635.95 L374.73 636.56 L374.24 637.16 L373.75 637.76 L373.26 638.36 L372.77 638.96 L372.28 639.57 L371.79 640.17 L371.3 640.77 L370.82 641.37 L370.33 641.98 L369.84 642.58 L369.36 643.18 L368.87 643.78 L368.39 644.39 L367.91 644.99 L367.43 645.59 L366.94 646.19 L366.46 646.8 L365.98 647.4 L365.5 648 L365.02 648.6 L364.55 649.21 L364.07 649.81 L363.59 650.41 L363.11 651.01 L362.64 651.61 L362.16 652.22 L361.69 652.82 L361.22 653.42 L360.74 654.02 L360.27 654.63 L359.8 655.23 L359.33 655.83 L358.86 656.43 L358.39 657.04 L357.92 657.64 L357.45 658.24 L356.99 658.84 L356.52 659.45 L356.05 660.05 L355.59 660.65 L355.12 661.25 L354.66 661.85 L354.19 662.46 L353.73 663.06 L353.27 663.66 L352.81 664.26 L352.35 664.87 L351.89 665.47 L351.43 666.07 L350.97 666.67 L350.51 667.28 L350.05 667.88 L349.6 668.48 L349.14 669.08 L348.68 669.69 L348.23 670.29 L347.78 670.89 L347.32 671.49 L346.87 672.09 L346.42 672.7 L345.97 673.3 L345.51 673.9 L345.06 674.5 L344.61 675.11 L344.17 675.71 L343.72 676.31 L343.27 676.91 L342.82 677.52 L342.38 678.12 L341.93 678.72 L341.49 679.32 L341.04 679.93 L340.6 680.53 L340.15 681.13 L339.71 681.73 L339.27 682.34 L338.83 682.94 L338.39 683.54 L337.95 684.14 L337.51 684.74 L337.07 685.35 L336.63 685.95 L336.2 686.55 L335.76 687.15 L335.32 687.76 L334.89 688.36 L334.45 688.96 L334.02 689.56 L333.58 690.17 L333.15 690.77 L332.72 691.37 L332.29 691.97 L331.86 692.58 L331.43 693.18 L331 693.78 L330.57 694.38 L330.14 694.98 L329.71 695.59 L329.28 696.19 L328.86 696.79 L328.43 697.39 L328.01 698 L327.58 698.6 L327.16 699.2 L326.73 699.8 L326.31 700.41 L325.89 701.01 L325.47 701.61 L325.05 702.21 L324.63 702.82 L324.21 703.42 L323.79 704.02 L323.37 704.62 L322.95 705.23 L322.54 705.83 L322.12 706.43 L321.7 707.03 L321.29 707.63 L320.87 708.24 L320.46 708.84 L320.05 709.44 L319.63 710.04 L319.22 710.65 L318.81 711.25 L318.4 711.85 L317.99 712.45 L317.58 713.06 L317.17 713.66 L316.76 714.26 L316.35 714.86 L315.95 715.47 L315.54 716.07 L315.13 716.67 L314.73 717.27 L314.32 717.87 L313.92 718.48 L313.51 719.08 L313.11 719.68 L312.71 720.28 L312.31 720.89 L311.91 721.49 L311.51 722.09 L311.11 722.69 L310.71 723.3 L310.31 723.9 L309.91 724.5 L309.51 725.1 L309.11 725.71 L308.72 726.31 L308.32 726.91 L307.93 727.51 L307.53 728.11 L307.14 728.72 L306.75 729.32 L306.35 729.92 L305.96 730.52 L305.57 731.13 L305.18 731.73 L304.79 732.33 L304.4 732.93 L304.01 733.54 L303.62 734.14 L303.23 734.74 L302.84 735.34 L302.46 735.95 L302.07 736.55 L301.69 737.15 L301.3 737.75 L300.92 738.36 L300.53 738.96 L300.15 739.56 L299.77 740.16 L299.38 740.76 L299 741.37 L298.62 741.97 L298.24 742.57 L297.86 743.17 L297.48 743.78 L297.1 744.38 L296.73 744.98 L296.35 745.58 L295.97 746.19 L295.6 746.79 L295.22 747.39 L294.84 747.99 L294.47 748.6 L294.1 749.2 L293.72 749.8 L293.35 750.4 L292.98 751 L292.61 751.61 L292.23 752.21 L291.86 752.81 L291.49 753.41 L291.12 754.02 L290.76 754.62 L290.39 755.22 L290.02 755.82 L289.65 756.43 L289.29 757.03 L288.92 757.63 L288.55 758.23 L288.19 758.84 L287.83 759.44 L287.46 760.04 L287.1 760.64 L286.74 761.24 L286.37 761.85 L286.01 762.45 L285.65 763.05 L285.29 763.65 L284.93 764.26 L284.57 764.86 L284.21 765.46 L283.86 766.06 L283.5 766.67 L283.14 767.27 L282.79 767.87 L282.43 768.47 L282.07 769.08 L281.72 769.68 L281.37 770.28 L281.01 770.88 L280.66 771.49 L280.31 772.09 L279.95 772.69 L279.6 773.29 L279.25 773.89 L278.9 774.5 L278.55 775.1 L278.2 775.7 L277.85 776.3 L277.51 776.91 L277.16 777.51 L276.81 778.11 L276.46 778.71 L276.12 779.32 L275.77 779.92 L275.43 780.52 L275.08 781.12 L274.74 781.73 L274.4 782.33 L274.05 782.93 L273.71 783.53 L273.37 784.13 L273.03 784.74 L272.69 785.34 L272.35 785.94 L272.01 786.54 L271.67 787.15 L271.33 787.75 L271 788.35 L270.66 788.95 L270.32 789.56 L269.99 790.16 L269.65 790.76 L269.31 791.36 L268.98 791.97 L268.65 792.57 L268.31 793.17 L267.98 793.77 L267.65 794.37 L267.31 794.98 L266.98 795.58 L266.65 796.18 L266.32 796.78 L265.99 797.39 L265.66 797.99 L265.33 798.59 L265 799.19 L264.67 799.8 L264.35 800.4 L264.02 801 L263.69 801.6 L263.36 802.21 L263.03 802.81 L262.71 803.41 L262.38 804.01 L262.06 804.62 L261.73 805.22 L261.4 805.82 L261.08 806.42 L260.75 807.02 L260.43 807.63 L260.1 808.23 L259.78 808.83 L259.46 809.43 L259.13 810.04 L258.81 810.64 L258.49 811.24 L258.17 811.84 L257.85 812.45 L257.52 813.05 L257.2 813.65 L256.88 814.25 L256.56 814.86 L256.24 815.46 L255.92 816.06 L255.6 816.66 L255.28 817.26 L254.96 817.87 L254.65 818.47 L254.33 819.07 L254.01 819.67 L253.69 820.28 L253.38 820.88 L253.06 821.48 L252.75 822.08 L252.43 822.69 L252.11 823.29 L251.8 823.89 L251.48 824.49 L251.17 825.1 L250.86 825.7 L250.54 826.3 L250.23 826.9 L249.92 827.51 L249.6 828.11 L249.29 828.71 L248.98 829.31 L248.67 829.91 L248.36 830.52 L248.05 831.12 L247.74 831.72 L247.43 832.32 L247.12 832.93 L246.81 833.53 L246.5 834.13 L246.19 834.73 L245.89 835.34 L245.58 835.94 L245.27 836.54 L244.97 837.14 L244.66 837.75 L244.35 838.35 L244.05 838.95 L243.74 839.55 L243.44 840.15 L243.13 840.76 L242.83 841.36 L242.53 841.96 L242.22 842.56 L241.92 843.17 L241.62 843.77 L241.32 844.37 L241.02 844.97 L240.72 845.58 L240.41 846.18 L240.11 846.78 L239.81 847.38 L239.52 847.99 L239.22 848.59 L238.92 849.19 L238.62 849.79 L238.32 850.39 L238.03 851 L237.73 851.6 L237.43 852.2 L237.14 852.8 L236.84 853.41 L236.54 854.01 L236.25 854.61 L235.96 855.21 L235.66 855.82 L235.37 856.42 L235.08 857.02 L234.78 857.62 L234.49 858.23 L234.2 858.83 L233.91 859.43 L233.62 860.03 L233.33 860.64 L233.04 861.24 L232.75 861.84 L232.46 862.44 L232.17 863.04 L231.88 863.65 L231.59 864.25 L231.3 864.85 L231.02 865.45 L230.73 866.06 L230.44 866.66 L230.16 867.26 L229.87 867.86 L229.59 868.47 L229.3 869.07 L229.02 869.67 L228.74 870.27 L228.45 870.88 L228.17 871.48 L227.89 872.08 L227.61 872.68 L227.33 873.28 L227.05 873.89 L226.77 874.49 L226.49 875.09 L226.21 875.69 L225.93 876.3 L225.65 876.9 L225.37 877.5 L225.09 878.1 L224.82 878.71 L224.54 879.31 L224.26 879.91 L223.99 880.51 L223.71 881.12 L223.44 881.72 L223.16 882.32 L222.89 882.92 L222.62 883.52 L222.34 884.13 L222.07 884.73 L221.8 885.33 L221.53 885.93 L221.26 886.54 L220.99 887.14 L220.72 887.74 L220.45 888.34 L220.18 888.95 L219.91 889.55 L219.64 890.15 L219.37 890.75 L219.11 891.36 L218.84 891.96 L218.57 892.56 L218.31 893.16 L218.04 893.77 L217.78 894.37 L217.51 894.97 L217.25 895.57 L216.99 896.17 L216.72 896.78 L216.46 897.38 L216.2 897.98 L215.94 898.58 L215.68 899.19 L215.42 899.79 L215.16 900.39 L214.9 900.99 L214.64 901.6 L214.38 902.2 L214.12 902.8 L213.87 903.4 L213.61 904.01 L213.35 904.61 L213.1 905.21 L212.84 905.81 L212.59 906.41 L212.33 907.02 L212.08 907.62 L211.83 908.22 L211.57 908.82 L211.32 909.43 L211.07 910.03 L210.82 910.63 L210.57 911.23 L210.32 911.84 L210.07 912.44 L209.82 913.04 L209.57 913.64 L209.32 914.25 L209.08 914.85 L208.83 915.45 L208.58 916.05 L208.34 916.65 L208.09 917.26 L207.85 917.86 L207.6 918.46 L207.36 919.06 L207.11 919.67 L206.87 920.27 L206.63 920.87 L206.39 921.47 L206.15 922.08 L205.91 922.68 L205.67 923.28 L205.43 923.88 L205.19 924.49 L204.95 925.09 L204.71 925.69 L204.47 926.29 L204.24 926.9 L204 927.5 L203.77 928.1 L203.53 928.7 L203.3 929.3 L203.06 929.91 L202.83 930.51 L202.6 931.11 L202.36 931.71 L202.13 932.32 L201.9 932.92 L201.67 933.52 L201.44 934.12 L201.21 934.73 L200.98 935.33 L200.75 935.93 L200.52 936.53 L200.3 937.14 L200.07 937.74 L199.84 938.34 L199.62 938.94 L199.39 939.54 L199.17 940.15 L198.94 940.75 L198.72 941.35 L198.5 941.95 L198.28 942.56 L198.05 943.16 L197.83 943.76 L197.61 944.36 L197.39 944.97 L197.17 945.57 L196.95 946.17 L196.74 946.77 L196.52 947.38 L196.3 947.98 L196.08 948.58 L195.87 949.18 L195.65 949.79 L195.44 950.39 L195.22 950.99 L195.01 951.59 L194.8 952.19 L194.58 952.8 L194.37 953.4 L194.16 954 L193.95 954.6 L193.74 955.21 L193.53 955.81 L193.32 956.41 L193.11 957.01 L192.91 957.62 L192.7 958.22 L192.49 958.82 L192.29 959.42 L192.08 960.03 Z"/>
<path stroke="#b0b0b0" stroke-width="1.11" fill="none" d="M228.5 144V1068.5 M363.5 144V1068.5 M498.5 144V1068.5 M633.5 144V1068.5 M768.5 144V1068.5 M903.5 144V1068.5 M1038.5 144V1068.5 M150 1025.5H1080.5 M150 919.5H1080.5 M150 813.5H1080.5 M150 707.5H1080.5 M150 602.5H1080.5 M150 496.5H1080.5 M150 390.5H1080.5 M150 284.5H1080.5 M150 179.5H1080.5"/>
<path stroke="#b0b0b0" stroke-opacity="0.055" stroke-width="1" fill="none" d="M150 1024.5H1080 M150 1026.5H1080 M150 918.5H1080 M150 920.5H1080 M150 812.5H1080 M150 814.5H1080 M150 706.5H1080 M150 708.5H1080 M150 601.5H1080 M150 603.5H1080 M150 495.5H1080 M150 497.5H1080 M150 389.5H1080 M150 391.5H1080 M150 283.5H1080 M150 285.5H1080 M150 178.5H1080 M150 180.5H1080"/>
<path stroke="#000" stroke-width="1.11" fill="none" d="M228.5 1068.5V1073.5 M363.5 1068.5V1073.5 M498.5 1068.5V1073.5 M633.5 1068.5V1073.5 M768.5 1068.5V1073.5 M903.5 1068.5V1073.5 M1038.5 1068.5V1073.5 M145.5 1025.5H150.5 M145.5 919.5H150.5 M145.5 813.5H150.5 M145.5 707.5H150.5 M145.5 602.5H150.5 M145.5 496.5H150.5 M145.5 390.5H150.5 M145.5 284.5H150.5 M145.5 179.5H150.5"/>
<path stroke="#000" stroke-opacity="0.055" stroke-width="1" fill="none" d="M145.5 1024.5H150 M145.5 1026.5H150 M145.5 918.5H150 M145.5 920.5H150 M145.5 812.5H150 M145.5 814.5H150 M145.5 706.5H150 M145.5 708.5H150 M145.5 601.5H150 M145.5 603.5H150 M145.5 495.5H150 M145.5 497.5H150 M145.5 389.5H150 M145.5 391.5H150 M145.5 283.5H150 M145.5 285.5H150 M145.5 178.5H150 M145.5 180.5H150"/>
<g clip-path="url(#ax)">
<circle cx="207.5" cy="1026.5" r="4.1667" fill="#1f77b4" stroke="#1f77b4" stroke-width="1.3889"/><circle cx="290.5" cy="799.5" r="4.1667" fill="#1f77b4" stroke="#1f77b4" stroke-width="1.3889"/><circle cx="435.5" cy="584.5" r="4.1667" fill="#1f77b4" stroke="#1f77b4" stroke-width="1.3889"/><circle cx="682.5" cy="379.5" r="4.1667" fill="#1f77b4" stroke="#1f77b4" stroke-width="1.3889"/><circle cx="1038.5" cy="186.5" r="4.1667" fill="#1f77b4" stroke="#1f77b4" stroke-width="1.3889"/>
<circle cx="192.5" cy="960.5" r="4.1667" fill="#ff7f0e" stroke="#ff7f0e" stroke-width="1.3889"/><circle cx="267.5" cy="796.5" r="4.1667" fill="#ff7f0e" stroke="#ff7f0e" stroke-width="1.3889"/><circle cx="395.5" cy="612.5" r="4.1667" fill="#ff7f0e" stroke="#ff7f0e" stroke-width="1.3889"/><circle cx="607.5" cy="425.5" r="4.1667" fill="#ff7f0e" stroke="#ff7f0e" stroke-width="1.3889"/><circle cx="927.5" cy="238.5" r="4.1667" fill="#ff7f0e" stroke="#ff7f0e" stroke-width="1.3889"/>
<path stroke="#1f77b4" stroke-width="2.08" fill="none" stroke-linecap="square" stroke-linejoin="round" d="M224.39 960.03 L224.58 959.42 L224.77 958.82 L224.96 958.22 L225.15 957.62 L225.34 957.01 L225.53 956.41 L225.72 955.81 L225.91 955.21 L226.11 954.6 L226.3 954 L226.49 953.4 L226.69 952.8 L226.88 952.19 L227.08 951.59 L227.28 950.99 L227.47 950.39 L227.67 949.79 L227.87 949.18 L228.07 948.58 L228.27 947.98 L228.47 947.38 L228.67 946.77 L228.87 946.17 L229.07 945.57 L229.27 944.97 L229.47 944.36 L229.67 943.76 L229.87 943.16 L230.08 942.56 L230.28 941.95 L230.49 941.35 L230.69 940.75 L230.9 940.15 L231.1 939.54 L231.31 938.94 L231.52 938.34 L231.72 937.74 L231.93 937.14 L232.14 936.53 L232.35 935.93 L232.56 935.33 L232.77 934.73 L232.98 934.12 L233.19 933.52 L233.4 932.92 L233.61 932.32 L233.82 931.71 L234.04 931.11 L234.25 930.51 L234.46 929.91 L234.68 929.3 L234.89 928.7 L235.11 928.1 L235.32 927.5 L235.54 926.9 L235.75 926.29 L235.97 925.69 L236.19 925.09 L236.41 924.49 L236.62 923.88 L236.84 923.28 L237.06 922.68 L237.28 922.08 L237.5 921.47 L237.72 920.87 L237.94 920.27 L238.16 919.67 L238.39 919.06 L238.61 918.46 L238.83 917.86 L239.05 917.26 L239.28 916.65 L239.5 916.05 L239.73 915.45 L239.95 914.85 L240.18 914.25 L240.4 913.64 L240.63 913.04 L240.85 912.44 L241.08 911.84 L241.31 911.23 L241.54 910.63 L241.77 910.03 L241.99 909.43 L242.22 908.82 L242.45 908.22 L242.68 907.62 L242.91 907.02 L243.15 906.41 L243.38 905.81 L243.61 905.21 L243.84 904.61 L244.07 904.01 L244.31 903.4 L244.54 902.8 L244.77 902.2 L245.01 901.6 L245.24 900.99 L245.48 900.39 L245.71 899.79 L245.95 899.19 L246.19 898.58 L246.42 897.98 L246.66 897.38 L246.9 896.78 L247.14 896.17 L247.37 895.57 L247.61 894.97 L247.85 894.37 L248.09 893.77 L248.33 893.16 L248.57 892.56 L248.81 891.96 L249.05 891.36 L249.29 890.75 L249.54 890.15 L249.78 889.55 L250.02 888.95 L250.26 888.34 L250.51 887.74 L250.75 887.14 L251 886.54 L251.24 885.93 L251.49 885.33 L251.73 884.73 L251.98 884.13 L252.22 883.52 L252.47 882.92 L252.72 882.32 L252.96 881.72 L253.21 881.12 L253.46 880.51 L253.71 879.91 L253.96 879.31 L254.2 878.71 L254.45 878.1 L254.7 877.5 L254.95 876.9 L255.2 876.3 L255.45 875.69 L255.71 875.09 L255.96 874.49 L256.21 873.89 L256.46 873.28 L256.71 872.68 L256.97 872.08 L257.22 871.48 L257.47 870.88 L257.73 870.27 L257.98 869.67 L258.24 869.07 L258.49 868.47 L258.75 867.86 L259 867.26 L259.26 866.66 L259.52 866.06 L259.77 865.45 L260.03 864.85 L260.29 864.25 L260.54 863.65 L260.8 863.04 L261.06 862.44 L261.32 861.84 L261.58 861.24 L261.84 860.64 L262.1 860.03 L262.36 859.43 L262.62 858.83 L262.88 858.23 L263.14 857.62 L263.4 857.02 L263.66 856.42 L263.92 855.82 L264.19 855.21 L264.45 854.61 L264.71 854.01 L264.97 853.41 L265.24 852.8 L265.5 852.2 L265.77 851.6 L266.03 851 L266.29 850.39 L266.56 849.79 L266.82 849.19 L267.09 848.59 L267.36 847.99 L267.62 847.38 L267.89 846.78 L268.16 846.18 L268.42 845.58 L268.69 844.97 L268.96 844.37 L269.23 843.77 L269.49 843.17 L269.76 842.56 L270.03 841.96 L270.3 841.36 L270.57 840.76 L270.84 840.15 L271.11 839.55 L271.38 838.95 L271.65 838.35 L271.92 837.75 L272.19 837.14 L272.46 836.54 L272.73 835.94 L273.01 835.34 L273.28 834.73 L273.55 834.13 L273.82 833.53 L274.1 832.93 L274.37 832.32 L274.64 831.72 L274.92 831.12 L275.19 830.52 L275.46 829.91 L275.74 829.31 L276.01 828.71 L276.29 828.11 L276.56 827.51 L276.84 826.9 L277.12 826.3 L277.39 825.7 L277.67 825.1 L277.94 824.49 L278.22 823.89 L278.5 823.29 L278.78 822.69 L279.05 822.08 L279.33 821.48 L279.61 820.88 L279.89 820.28 L280.17 819.67 L280.44 819.07 L280.72 818.47 L281 817.87 L281.28 817.26 L281.56 816.66 L281.84 816.06 L282.12 815.46 L282.4 814.86 L282.68 814.25 L282.96 813.65 L283.24 813.05 L283.53 812.45 L283.81 811.84 L284.09 811.24 L284.37 810.64 L284.65 810.04 L284.94 809.43 L285.22 808.83 L285.5 808.23 L285.78 807.63 L286.07 807.02 L286.35 806.42 L286.63 805.82 L286.92 805.22 L287.2 804.62 L287.49 804.01 L287.77 803.41 L288.06 802.81 L288.34 802.21 L288.62 801.6 L288.91 801 L289.2 800.4 L289.48 799.8 L289.77 799.19 L290.05 798.59 L290.34 797.99 L290.63 797.39 L290.92 796.78 L291.21 796.18 L291.49 795.58 L291.79 794.98 L292.08 794.37 L292.37 793.77 L292.66 793.17 L292.95 792.57 L293.25 791.97 L293.54 791.36 L293.84 790.76 L294.13 790.16 L294.43 789.56 L294.73 788.95 L295.03 788.35 L295.33 787.75 L295.63 787.15 L295.93 786.54 L296.23 785.94 L296.53 785.34 L296.83 784.74 L297.14 784.13 L297.44 783.53 L297.74 782.93 L298.05 782.33 L298.36 781.73 L298.66 781.12 L298.97 780.52 L299.28 779.92 L299.59 779.32 L299.9 778.71 L300.21 778.11 L300.52 777.51 L300.83 776.91 L301.14 776.3 L301.46 775.7 L301.77 775.1 L302.09 774.5 L302.4 773.89 L302.72 773.29 L303.03 772.69 L303.35 772.09 L303.67 771.49 L303.99 770.88 L304.31 770.28 L304.63 769.68 L304.95 769.08 L305.27 768.47 L305.59 767.87 L305.92 767.27 L306.24 766.67 L306.57 766.06 L306.89 765.46 L307.22 764.86 L307.54 764.26 L307.87 763.65 L308.2 763.05 L308.53 762.45 L308.86 761.85 L309.19 761.24 L309.52 760.64 L309.85 760.04 L310.18 759.44 L310.51 758.84 L310.85 758.23 L311.18 757.63 L311.52 757.03 L311.85 756.43 L312.19 755.82 L312.53 755.22 L312.86 754.62 L313.2 754.02 L313.54 753.41 L313.88 752.81 L314.22 752.21 L314.56 751.61 L314.91 751 L315.25 750.4 L315.59 749.8 L315.94 749.2 L316.28 748.6 L316.63 747.99 L316.97 747.39 L317.32 746.79 L317.67 746.19 L318.02 745.58 L318.36 744.98 L318.71 744.38 L319.06 743.78 L319.42 743.17 L319.77 742.57 L320.12 741.97 L320.47 741.37 L320.83 740.76 L321.18 740.16 L321.54 739.56 L321.89 738.96 L322.25 738.36 L322.61 737.75 L322.96 737.15 L323.32 736.55 L323.68 735.95 L324.04 735.34 L324.4 734.74 L324.76 734.14 L325.13 733.54 L325.49 732.93 L325.85 732.33 L326.22 731.73 L326.58 731.13 L326.95 730.52 L327.31 729.92 L327.68 729.32 L328.05 728.72 L328.42 728.11 L328.78 727.51 L329.15 726.91 L329.52 726.31 L329.9 725.71 L330.27 725.1 L330.64 724.5 L331.01 723.9 L331.39 723.3 L331.76 722.69 L332.14 722.09 L332.51 721.49 L332.89 720.89 L333.26 720.28 L333.64 719.68 L334.02 719.08 L334.4 718.48 L334.78 717.87 L335.16 717.27 L335.54 716.67 L335.92 716.07 L336.31 715.47 L336.69 714.86 L337.07 714.26 L337.46 713.66 L337.84 713.06 L338.23 712.45 L338.61 711.85 L339 711.25 L339.39 710.65 L339.78 710.04 L340.17 709.44 L340.56 708.84 L340.95 708.24 L341.34 707.63 L341.73 707.03 L342.12 706.43 L342.52 705.83 L342.91 705.23 L343.31 704.62 L343.7 704.02 L344.1 703.42 L344.49 702.82 L344.89 702.21 L345.29 701.61 L345.69 701.01 L346.09 700.41 L346.49 699.8 L346.89 699.2 L347.29 698.6 L347.69 698 L348.09 697.39 L348.5 696.79 L348.9 696.19 L349.31 695.59 L349.71 694.98 L350.12 694.38 L350.52 693.78 L350.93 693.18 L351.34 692.58 L351.75 691.97 L352.16 691.37 L352.57 690.77 L352.98 690.17 L353.39 689.56 L353.8 688.96 L354.21 688.36 L354.63 687.76 L355.04 687.15 L355.45 686.55 L355.87 685.95 L356.29 685.35 L356.7 684.74 L357.12 684.14 L357.54 683.54 L357.96 682.94 L358.38 682.34 L358.8 681.73 L359.22 681.13 L359.64 680.53 L360.06 679.93 L360.48 679.32 L360.9 678.72 L361.33 678.12 L361.75 677.52 L362.18 676.91 L362.6 676.31 L363.03 675.71 L363.46 675.11 L363.89 674.5 L364.31 673.9 L364.74 673.3 L365.17 672.7 L365.6 672.09 L366.03 671.49 L366.47 670.89 L366.9 670.29 L367.33 669.69 L367.76 669.08 L368.2 668.48 L368.63 667.88 L369.07 667.28 L369.51 666.67 L369.94 666.07 L370.38 665.47 L370.82 664.87 L371.26 664.26 L371.7 663.66 L372.14 663.06 L372.58 662.46 L373.02 661.85 L373.46 661.25 L373.9 660.65 L374.35 660.05 L374.79 659.45 L375.24 658.84 L375.68 658.24 L376.13 657.64 L376.57 657.04 L377.02 656.43 L377.47 655.83 L377.92 655.23 L378.37 654.63 L378.82 654.02 L379.27 653.42 L379.72 652.82 L380.17 652.22 L380.62 651.61 L381.08 651.01 L381.53 650.41 L381.98 649.81 L382.44 649.21 L382.9 648.6 L383.35 648 L383.81 647.4 L384.27 646.8 L384.72 646.19 L385.18 645.59 L385.64 644.99 L386.1 644.39 L386.56 643.78 L387.03 643.18 L387.49 642.58 L387.95 641.98 L388.41 641.37 L388.88 640.77 L389.34 640.17 L389.81 639.57 L390.27 638.96 L390.74 638.36 L391.21 637.76 L391.68 637.16 L392.14 636.56 L392.61 635.95 L393.08 635.35 L393.55 634.75 L394.02 634.15 L394.5 633.54 L394.97 632.94 L395.44 632.34 L395.91 631.74 L396.39 631.13 L396.86 630.53 L397.34 629.93 L397.81 629.33 L398.29 628.72 L398.77 628.12 L399.25 627.52 L399.72 626.92 L400.2 626.32 L400.68 625.71 L401.16 625.11 L401.65 624.51 L402.13 623.91 L402.61 623.3 L403.09 622.7 L403.58 622.1 L404.06 621.5 L404.55 620.89 L405.03 620.29 L405.52 619.69 L406 619.09 L406.49 618.48 L406.98 617.88 L407.47 617.28 L407.96 616.68 L408.45 616.08 L408.94 615.47 L409.43 614.87 L409.92 614.27 L410.41 613.67 L410.91 613.06 L411.4 612.46 L411.89 611.86 L412.39 611.26 L412.88 610.65 L413.38 610.05 L413.88 609.45 L414.37 608.85 L414.87 608.24 L415.37 607.64 L415.87 607.04 L416.37 606.44 L416.87 605.83 L417.37 605.23 L417.87 604.63 L418.38 604.03 L418.88 603.43 L419.38 602.82 L419.89 602.22 L420.39 601.62 L420.9 601.02 L421.4 600.41 L421.91 599.81 L422.42 599.21 L422.92 598.61 L423.43 598 L423.94 597.4 L424.45 596.8 L424.96 596.2 L425.47 595.59 L425.98 594.99 L426.5 594.39 L427.01 593.79 L427.52 593.19 L428.04 592.58 L428.55 591.98 L429.07 591.38 L429.58 590.78 L430.1 590.17 L430.62 589.57 L431.13 588.97 L431.65 588.37 L432.17 587.76 L432.69 587.16 L433.21 586.56 L433.73 585.96 L434.25 585.35 L434.77 584.75 L435.3 584.15 L435.82 583.55 L436.35 582.94 L436.87 582.34 L437.4 581.74 L437.93 581.14 L438.46 580.54 L438.99 579.93 L439.53 579.33 L440.06 578.73 L440.6 578.13 L441.14 577.52 L441.68 576.92 L442.22 576.32 L442.76 575.72 L443.3 575.11 L443.85 574.51 L444.39 573.91 L444.94 573.31 L445.49 572.7 L446.04 572.1 L446.6 571.5 L447.15 570.9 L447.7 570.3 L448.26 569.69 L448.82 569.09 L449.38 568.49 L449.94 567.89 L450.5 567.28 L451.06 566.68 L451.63 566.08 L452.19 565.48 L452.76 564.87 L453.33 564.27 L453.9 563.67 L454.47 563.07 L455.05 562.46 L455.62 561.86 L456.2 561.26 L456.77 560.66 L457.35 560.06 L457.93 559.45 L458.51 558.85 L459.1 558.25 L459.68 557.65 L460.27 557.04 L460.85 556.44 L461.44 555.84 L462.03 555.24 L462.62 554.63 L463.21 554.03 L463.81 553.43 L464.4 552.83 L465 552.22 L465.59 551.62 L466.19 551.02 L466.79 550.42 L467.39 549.81 L468 549.21 L468.6 548.61 L469.2 548.01 L469.81 547.41 L470.42 546.8 L471.03 546.2 L471.64 545.6 L472.25 545 L472.86 544.39 L473.48 543.79 L474.09 543.19 L474.71 542.59 L475.33 541.98 L475.95 541.38 L476.57 540.78 L477.19 540.18 L477.82 539.57 L478.44 538.97 L479.07 538.37 L479.69 537.77 L480.32 537.17 L480.95 536.56 L481.58 535.96 L482.21 535.36 L482.85 534.76 L483.48 534.15 L484.12 533.55 L484.76 532.95 L485.39 532.35 L486.03 531.74 L486.68 531.14 L487.32 530.54 L487.96 529.94 L488.61 529.33 L489.25 528.73 L489.9 528.13 L490.55 527.53 L491.2 526.93 L491.85 526.32 L492.5 525.72 L493.15 525.12 L493.81 524.52 L494.46 523.91 L495.12 523.31 L495.78 522.71 L496.44 522.11 L497.1 521.5 L497.76 520.9 L498.42 520.3 L499.09 519.7 L499.75 519.09 L500.42 518.49 L501.09 517.89 L501.76 517.29 L502.43 516.68 L503.1 516.08 L503.77 515.48 L504.45 514.88 L505.12 514.28 L505.8 513.67 L506.47 513.07 L507.15 512.47 L507.83 511.87 L508.51 511.26 L509.2 510.66 L509.88 510.06 L510.56 509.46 L511.25 508.85 L511.93 508.25 L512.62 507.65 L513.31 507.05 L514 506.44 L514.69 505.84 L515.38 505.24 L516.08 504.64 L516.77 504.04 L517.47 503.43 L518.17 502.83 L518.86 502.23 L519.56 501.63 L520.26 501.02 L520.96 500.42 L521.67 499.82 L522.37 499.22 L523.08 498.61 L523.78 498.01 L524.49 497.41 L525.2 496.81 L525.91 496.2 L526.62 495.6 L527.33 495 L528.04 494.4 L528.75 493.8 L529.47 493.19 L530.18 492.59 L530.9 491.99 L531.62 491.39 L532.34 490.78 L533.06 490.18 L533.78 489.58 L534.5 488.98 L535.22 488.37 L535.95 487.77 L536.67 487.17 L537.4 486.57 L538.13 485.96 L538.86 485.36 L539.59 484.76 L540.32 484.16 L541.05 483.55 L541.78 482.95 L542.52 482.35 L543.25 481.75 L543.99 481.15 L544.72 480.54 L545.46 479.94 L546.2 479.34 L546.94 478.74 L547.68 478.13 L548.43 477.53 L549.17 476.93 L549.91 476.33 L550.66 475.72 L551.4 475.12 L552.15 474.52 L552.9 473.92 L553.65 473.31 L554.4 472.71 L555.15 472.11 L555.9 471.51 L556.66 470.91 L557.41 470.3 L558.17 469.7 L558.92 469.1 L559.68 468.5 L560.44 467.89 L561.2 467.29 L561.96 466.69 L562.72 466.09 L563.48 465.48 L564.25 464.88 L565.01 464.28 L565.78 463.68 L566.54 463.07 L567.31 462.47 L568.08 461.87 L568.85 461.27 L569.62 460.66 L570.39 460.06 L571.16 459.46 L571.93 458.86 L572.71 458.26 L573.48 457.65 L574.26 457.05 L575.04 456.45 L575.81 455.85 L576.59 455.24 L577.37 454.64 L578.15 454.04 L578.93 453.44 L579.72 452.83 L580.5 452.23 L581.29 451.63 L582.07 451.03 L582.86 450.42 L583.64 449.82 L584.43 449.22 L585.22 448.62 L586.01 448.02 L586.8 447.41 L587.59 446.81 L588.39 446.21 L589.18 445.61 L589.97 445 L590.77 444.4 L591.57 443.8 L592.36 443.2 L593.16 442.59 L593.96 441.99 L594.76 441.39 L595.56 440.79 L596.36 440.18 L597.16 439.58 L597.97 438.98 L598.77 438.38 L599.58 437.78 L600.38 437.17 L601.19 436.57 L602 435.97 L602.8 435.37 L603.61 434.76 L604.42 434.16 L605.24 433.56 L606.05 432.96 L606.86 432.35 L607.67 431.75 L608.49 431.15 L609.3 430.55 L610.12 429.94 L610.94 429.34 L611.75 428.74 L612.57 428.14 L613.39 427.53 L614.21 426.93 L615.03 426.33 L615.86 425.73 L616.68 425.13 L617.5 424.52 L618.33 423.92 L619.15 423.32 L619.98 422.72 L620.8 422.11 L621.63 421.51 L622.46 420.91 L623.29 420.31 L624.12 419.7 L624.95 419.1 L625.78 418.5 L626.62 417.9 L627.45 417.29 L628.28 416.69 L629.12 416.09 L629.95 415.49 L630.79 414.89 L631.63 414.28 L632.46 413.68 L633.3 413.08 L634.14 412.48 L634.98 411.87 L635.82 411.27 L636.67 410.67 L637.51 410.07 L638.35 409.46 L639.2 408.86 L640.04 408.26 L640.89 407.66 L641.73 407.05 L642.58 406.45 L643.43 405.85 L644.28 405.25 L645.13 404.65 L645.98 404.04 L646.83 403.44 L647.68 402.84 L648.53 402.24 L649.38 401.63 L650.24 401.03 L651.09 400.43 L651.95 399.83 L652.8 399.22 L653.66 398.62 L654.52 398.02 L655.37 397.42 L656.23 396.81 L657.09 396.21 L657.95 395.61 L658.81 395.01 L659.67 394.4 L660.54 393.8 L661.4 393.2 L662.26 392.6 L663.13 392 L663.99 391.39 L664.86 390.79 L665.72 390.19 L666.59 389.59 L667.46 388.98 L668.33 388.38 L669.2 387.78 L670.07 387.18 L670.94 386.57 L671.81 385.97 L672.68 385.37 L673.55 384.77 L674.42 384.16 L675.3 383.56 L676.17 382.96 L677.05 382.36 L677.92 381.76 L678.8 381.15 L679.68 380.55 L680.55 379.95 L681.43 379.35 L682.31 378.74 L683.19 378.14 L684.07 377.54 L684.96 376.94 L685.84 376.33 L686.73 375.73 L687.62 375.13 L688.51 374.53 L689.4 373.92 L690.3 373.32 L691.19 372.72 L692.09 372.12 L692.99 371.52 L693.89 370.91 L694.79 370.31 L695.7 369.71 L696.6 369.11 L697.51 368.5 L698.42 367.9 L699.33 367.3 L700.25 366.7 L701.16 366.09 L702.08 365.49 L702.99 364.89 L703.91 364.29 L704.84 363.68 L705.76 363.08 L706.68 362.48 L707.61 361.88 L708.54 361.27 L709.47 360.67 L710.4 360.07 L711.33 359.47 L712.26 358.87 L713.2 358.26 L714.14 357.66 L715.08 357.06 L716.02 356.46 L716.96 355.85 L717.91 355.25 L718.85 354.65 L719.8 354.05 L720.75 353.44 L721.7 352.84 L722.65 352.24 L723.61 351.64 L724.56 351.03 L725.52 350.43 L726.48 349.83 L727.44 349.23 L728.4 348.63 L729.36 348.02 L730.33 347.42 L731.3 346.82 L732.27 346.22 L733.24 345.61 L734.21 345.01 L735.18 344.41 L736.15 343.81 L737.13 343.2 L738.11 342.6 L739.09 342 L740.07 341.4 L741.05 340.79 L742.04 340.19 L743.02 339.59 L744.01 338.99 L745 338.38 L745.99 337.78 L746.98 337.18 L747.98 336.58 L748.97 335.98 L749.97 335.37 L750.97 334.77 L751.97 334.17 L752.97 333.57 L753.97 332.96 L754.97 332.36 L755.98 331.76 L756.99 331.16 L758 330.55 L759.01 329.95 L760.02 329.35 L761.03 328.75 L762.05 328.14 L763.06 327.54 L764.08 326.94 L765.1 326.34 L766.12 325.74 L767.15 325.13 L768.17 324.53 L769.2 323.93 L770.22 323.33 L771.25 322.72 L772.28 322.12 L773.31 321.52 L774.35 320.92 L775.38 320.31 L776.42 319.71 L777.45 319.11 L778.49 318.51 L779.53 317.9 L780.58 317.3 L781.62 316.7 L782.66 316.1 L783.71 315.5 L784.76 314.89 L785.81 314.29 L786.86 313.69 L787.91 313.09 L788.96 312.48 L790.02 311.88 L791.07 311.28 L792.13 310.68 L793.19 310.07 L794.25 309.47 L795.31 308.87 L796.38 308.27 L797.44 307.66 L798.51 307.06 L799.58 306.46 L800.65 305.86 L801.72 305.25 L802.79 304.65 L803.86 304.05 L804.94 303.45 L806.01 302.85 L807.09 302.24 L808.17 301.64 L809.25 301.04 L810.33 300.44 L811.42 299.83 L812.5 299.23 L813.59 298.63 L814.67 298.03 L815.76 297.42 L816.85 296.82 L817.94 296.22 L819.04 295.62 L820.13 295.01 L821.23 294.41 L822.32 293.81 L823.42 293.21 L824.52 292.61 L825.62 292 L826.73 291.4 L827.83 290.8 L828.94 290.2 L830.04 289.59 L831.15 288.99 L832.26 288.39 L833.37 287.79 L834.48 287.18 L835.59 286.58 L836.71 285.98 L837.83 285.38 L838.94 284.77 L840.06 284.17 L841.18 283.57 L842.3 282.97 L843.42 282.37 L844.55 281.76 L845.67 281.16 L846.8 280.56 L847.93 279.96 L849.06 279.35 L850.19 278.75 L851.32 278.15 L852.45 277.55 L853.59 276.94 L854.72 276.34 L855.86 275.74 L857 275.14 L858.14 274.53 L859.28 273.93 L860.42 273.33 L861.56 272.73 L862.71 272.12 L863.85 271.52 L865 270.92 L866.15 270.32 L867.3 269.72 L868.45 269.11 L869.6 268.51 L870.75 267.91 L871.91 267.31 L873.06 266.7 L874.22 266.1 L875.38 265.5 L876.54 264.9 L877.7 264.29 L878.86 263.69 L880.02 263.09 L881.19 262.49 L882.35 261.88 L883.52 261.28 L884.69 260.68 L885.86 260.08 L887.03 259.48 L888.2 258.87 L889.37 258.27 L890.55 257.67 L891.72 257.07 L892.9 256.46 L894.07 255.86 L895.25 255.26 L896.43 254.66 L897.62 254.05 L898.8 253.45 L899.98 252.85 L901.17 252.25 L902.35 251.64 L903.54 251.04 L904.73 250.44 L905.92 249.84 L907.11 249.23 L908.3 248.63 L909.49 248.03 L910.69 247.43 L911.88 246.83 L913.08 246.22 L914.28 245.62 L915.48 245.02 L916.68 244.42 L917.88 243.81 L919.08 243.21 L920.28 242.61 L921.49 242.01 L922.69 241.4 L923.9 240.8 L925.11 240.2 L926.32 239.6 L927.53 238.99 L928.74 238.39 L929.95 237.79"/>
<path stroke="#ff7f0e" stroke-width="2.08" fill="none" stroke-linecap="square" stroke-linejoin="round" d="M192.08 960.03 L192.29 959.42 L192.49 958.82 L192.7 958.22 L192.91 957.62 L193.11 957.01 L193.32 956.41 L193.53 955.81 L193.74 955.21 L193.95 954.6 L194.16 954 L194.37 953.4 L194.58 952.8 L194.8 952.19 L195.01 951.59 L195.22 950.99 L195.44 950.39 L195.65 949.79 L195.87 949.18 L196.08 948.58 L196.3 947.98 L196.52 947.38 L196.74 946.77 L196.95 946.17 L197.17 945.57 L197.39 944.97 L197.61 944.36 L197.83 943.76 L198.05 943.16 L198.28 942.56 L198.5 941.95 L198.72 941.35 L198.94 940.75 L199.17 940.15 L199.39 939.54 L199.62 938.94 L199.84 938.34 L200.07 937.74 L200.3 937.14 L200.52 936.53 L200.75 935.93 L200.98 935.33 L201.21 934.73 L201.44 934.12 L201.67 933.52 L201.9 932.92 L202.13 932.32 L202.36 931.71 L202.6 931.11 L202.83 930.51 L203.06 929.91 L203.3 929.3 L203.53 928.7 L203.77 928.1 L204 927.5 L204.24 926.9 L204.47 926.29 L204.71 925.69 L204.95 925.09 L205.19 924.49 L205.43 923.88 L205.67 923.28 L205.91 922.68 L206.15 922.08 L206.39 921.47 L206.63 920.87 L206.87 920.27 L207.11 919.67 L207.36 919.06 L207.6 918.46 L207.85 917.86 L208.09 917.26 L208.34 916.65 L208.58 916.05 L208.83 915.45 L209.08 914.85 L209.32 914.25 L209.57 913.64 L209.82 913.04 L210.07 912.44 L210.32 911.84 L210.57 911.23 L210.82 910.63 L211.07 910.03 L211.32 909.43 L211.57 908.82 L211.83 908.22 L212.08 907.62 L212.33 907.02 L212.59 906.41 L212.84 905.81 L213.1 905.21 L213.35 904.61 L213.61 904.01 L213.87 903.4 L214.12 902.8 L214.38 902.2 L214.64 901.6 L214.9 900.99 L215.16 900.39 L215.42 899.79 L215.68 899.19 L215.94 898.58 L216.2 897.98 L216.46 897.38 L216.72 896.78 L216.99 896.17 L217.25 895.57 L217.51 894.97 L217.78 894.37 L218.04 893.77 L218.31 893.16 L218.57 892.56 L218.84 891.96 L219.11 891.36 L219.37 890.75 L219.64 890.15 L219.91 889.55 L220.18 888.95 L220.45 888.34 L220.72 887.74 L220.99 887.14 L221.26 886.54 L221.53 885.93 L221.8 885.33 L222.07 884.73 L222.34 884.13 L222.62 883.52 L222.89 882.92 L223.16 882.32 L223.44 881.72 L223.71 881.12 L223.99 880.51 L224.26 879.91 L224.54 879.31 L224.82 878.71 L225.09 878.1 L225.37 877.5 L225.65 876.9 L225.93 876.3 L226.21 875.69 L226.49 875.09 L226.77 874.49 L227.05 873.89 L227.33 873.28 L227.61 872.68 L227.89 872.08 L228.17 871.48 L228.45 870.88 L228.74 870.27 L229.02 869.67 L229.3 869.07 L229.59 868.47 L229.87 867.86 L230.16 867.26 L230.44 866.66 L230.73 866.06 L231.02 865.45 L231.3 864.85 L231.59 864.25 L231.88 863.65 L232.17 863.04 L232.46 862.44 L232.75 861.84 L233.04 861.24 L233.33 860.64 L233.62 860.03 L233.91 859.43 L234.2 858.83 L234.49 858.23 L234.78 857.62 L235.08 857.02 L235.37 856.42 L235.66 855.82 L235.96 855.21 L236.25 854.61 L236.54 854.01 L236.84 853.41 L237.14 852.8 L237.43 852.2 L237.73 851.6 L238.03 851 L238.32 850.39 L238.62 849.79 L238.92 849.19 L239.22 848.59 L239.52 847.99 L239.81 847.38 L240.11 846.78 L240.41 846.18 L240.72 845.58 L241.02 844.97 L241.32 844.37 L241.62 843.77 L241.92 843.17 L242.22 842.56 L242.53 841.96 L242.83 841.36 L243.13 840.76 L243.44 840.15 L243.74 839.55 L244.05 838.95 L244.35 838.35 L244.66 837.75 L244.97 837.14 L245.27 836.54 L245.58 835.94 L245.89 835.34 L246.19 834.73 L246.5 834.13 L246.81 833.53 L247.12 832.93 L247.43 832.32 L247.74 831.72 L248.05 831.12 L248.36 830.52 L248.67 829.91 L248.98 829.31 L249.29 828.71 L249.6 828.11 L249.92 827.51 L250.23 826.9 L250.54 826.3 L250.86 825.7 L251.17 825.1 L251.48 824.49 L251.8 823.89 L252.11 823.29 L252.43 822.69 L252.75 822.08 L253.06 821.48 L253.38 820.88 L253.69 820.28 L254.01 819.67 L254.33 819.07 L254.65 818.47 L254.96 817.87 L255.28 817.26 L255.6 816.66 L255.92 816.06 L256.24 815.46 L256.56 814.86 L256.88 814.25 L257.2 813.65 L257.52 813.05 L257.85 812.45 L258.17 811.84 L258.49 811.24 L258.81 810.64 L259.13 810.04 L259.46 809.43 L259.78 808.83 L260.1 808.23 L260.43 807.63 L260.75 807.02 L261.08 806.42 L261.4 805.82 L261.73 805.22 L262.06 804.62 L262.38 804.01 L262.71 803.41 L263.03 802.81 L263.36 802.21 L263.69 801.6 L264.02 801 L264.35 800.4 L264.67 799.8 L265 799.19 L265.33 798.59 L265.66 797.99 L265.99 797.39 L266.32 796.78 L266.65 796.18 L266.98 795.58 L267.31 794.98 L267.65 794.37 L267.98 793.77 L268.31 793.17 L268.65 792.57 L268.98 791.97 L269.31 791.36 L269.65 790.76 L269.99 790.16 L270.32 789.56 L270.66 788.95 L271 788.35 L271.33 787.75 L271.67 787.15 L272.01 786.54 L272.35 785.94 L272.69 785.34 L273.03 784.74 L273.37 784.13 L273.71 783.53 L274.05 782.93 L274.4 782.33 L274.74 781.73 L275.08 781.12 L275.43 780.52 L275.77 779.92 L276.12 779.32 L276.46 778.71 L276.81 778.11 L277.16 777.51 L277.51 776.91 L277.85 776.3 L278.2 775.7 L278.55 775.1 L278.9 774.5 L279.25 773.89 L279.6 773.29 L279.95 772.69 L280.31 772.09 L280.66 771.49 L281.01 770.88 L281.37 770.28 L281.72 769.68 L282.07 769.08 L282.43 768.47 L282.79 767.87 L283.14 767.27 L283.5 766.67 L283.86 766.06 L284.21 765.46 L284.57 764.86 L284.93 764.26 L285.29 763.65 L285.65 763.05 L286.01 762.45 L286.37 761.85 L286.74 761.24 L287.1 760.64 L287.46 760.04 L287.83 759.44 L288.19 758.84 L288.55 758.23 L288.92 757.63 L289.29 757.03 L289.65 756.43 L290.02 755.82 L290.39 755.22 L290.76 754.62 L291.12 754.02 L291.49 753.41 L291.86 752.81 L292.23 752.21 L292.61 751.61 L292.98 751 L293.35 750.4 L293.72 749.8 L294.1 749.2 L294.47 748.6 L294.84 747.99 L295.22 747.39 L295.6 746.79 L295.97 746.19 L296.35 745.58 L296.73 744.98 L297.1 744.38 L297.48 743.78 L297.86 743.17 L298.24 742.57 L298.62 741.97 L299 741.37 L299.38 740.76 L299.77 740.16 L300.15 739.56 L300.53 738.96 L300.92 738.36 L301.3 737.75 L301.69 737.15 L302.07 736.55 L302.46 735.95 L302.84 735.34 L303.23 734.74 L303.62 734.14 L304.01 733.54 L304.4 732.93 L304.79 732.33 L305.18 731.73 L305.57 731.13 L305.96 730.52 L306.35 729.92 L306.75 729.32 L307.14 728.72 L307.53 728.11 L307.93 727.51 L308.32 726.91 L308.72 726.31 L309.11 725.71 L309.51 725.1 L309.91 724.5 L310.31 723.9 L310.71 723.3 L311.11 722.69 L311.51 722.09 L311.91 721.49 L312.31 720.89 L312.71 720.28 L313.11 719.68 L313.51 719.08 L313.92 718.48 L314.32 717.87 L314.73 717.27 L315.13 716.67 L315.54 716.07 L315.95 715.47 L316.35 714.86 L316.76 714.26 L317.17 713.66 L317.58 713.06 L317.99 712.45 L318.4 711.85 L318.81 711.25 L319.22 710.65 L319.63 710.04 L320.05 709.44 L320.46 708.84 L320.87 708.24 L321.29 707.63 L321.7 707.03 L322.12 706.43 L322.54 705.83 L322.95 705.23 L323.37 704.62 L323.79 704.02 L324.21 703.42 L324.63 702.82 L325.05 702.21 L325.47 701.61 L325.89 701.01 L326.31 700.41 L326.73 699.8 L327.16 699.2 L327.58 698.6 L328.01 698 L328.43 697.39 L328.86 696.79 L329.28 696.19 L329.71 695.59 L330.14 694.98 L330.57 694.38 L331 693.78 L331.43 693.18 L331.86 692.58 L332.29 691.97 L332.72 691.37 L333.15 690.77 L333.58 690.17 L334.02 689.56 L334.45 688.96 L334.89 688.36 L335.32 687.76 L335.76 687.15 L336.2 686.55 L336.63 685.95 L337.07 685.35 L337.51 684.74 L337.95 684.14 L338.39 683.54 L338.83 682.94 L339.27 682.34 L339.71 681.73 L340.15 681.13 L340.6 680.53 L341.04 679.93 L341.49 679.32 L341.93 678.72 L342.38 678.12 L342.82 677.52 L343.27 676.91 L343.72 676.31 L344.17 675.71 L344.61 675.11 L345.06 674.5 L345.51 673.9 L345.97 673.3 L346.42 672.7 L346.87 672.09 L347.32 671.49 L347.78 670.89 L348.23 670.29 L348.68 669.69 L349.14 669.08 L349.6 668.48 L350.05 667.88 L350.51 667.28 L350.97 666.67 L351.43 666.07 L351.89 665.47 L352.35 664.87 L352.81 664.26 L353.27 663.66 L353.73 663.06 L354.19 662.46 L354.66 661.85 L355.12 661.25 L355.59 660.65 L356.05 660.05 L356.52 659.45 L356.99 658.84 L357.45 658.24 L357.92 657.64 L358.39 657.04 L358.86 656.43 L359.33 655.83 L359.8 655.23 L360.27 654.63 L360.74 654.02 L361.22 653.42 L361.69 652.82 L362.16 652.22 L362.64 651.61 L363.11 651.01 L363.59 650.41 L364.07 649.81 L364.55 649.21 L365.02 648.6 L365.5 648 L365.98 647.4 L366.46 646.8 L366.94 646.19 L367.43 645.59 L367.91 644.99 L368.39 644.39 L368.87 643.78 L369.36 643.18 L369.84 642.58 L370.33 641.98 L370.82 641.37 L371.3 640.77 L371.79 640.17 L372.28 639.57 L372.77 638.96 L373.26 638.36 L373.75 637.76 L374.24 637.16 L374.73 636.56 L375.22 635.95 L375.72 635.35 L376.21 634.75 L376.71 634.15 L377.2 633.54 L377.7 632.94 L378.2 632.34 L378.69 631.74 L379.19 631.13 L379.69 630.53 L380.19 629.93 L380.69 629.33 L381.19 628.72 L381.69 628.12 L382.2 627.52 L382.7 626.92 L383.2 626.32 L383.71 625.71 L384.21 625.11 L384.72 624.51 L385.22 623.91 L385.73 623.3 L386.24 622.7 L386.75 622.1 L387.26 621.5 L387.77 620.89 L388.28 620.29 L388.79 619.69 L389.3 619.09 L389.82 618.48 L390.33 617.88 L390.84 617.28 L391.36 616.68 L391.87 616.08 L392.39 615.47 L392.91 614.87 L393.43 614.27 L393.94 613.67 L394.46 613.06 L394.98 612.46 L395.51 611.86 L396.03 611.26 L396.55 610.65 L397.08 610.05 L397.6 609.45 L398.13 608.85 L398.66 608.24 L399.19 607.64 L399.72 607.04 L400.25 606.44 L400.78 605.83 L401.32 605.23 L401.85 604.63 L402.39 604.03 L402.92 603.43 L403.46 602.82 L404 602.22 L404.55 601.62 L405.09 601.02 L405.63 600.41 L406.18 599.81 L406.72 599.21 L407.27 598.61 L407.82 598 L408.37 597.4 L408.92 596.8 L409.47 596.2 L410.02 595.59 L410.58 594.99 L411.13 594.39 L411.69 593.79 L412.25 593.19 L412.81 592.58 L413.37 591.98 L413.93 591.38 L414.49 590.78 L415.05 590.17 L415.62 589.57 L416.19 588.97 L416.75 588.37 L417.32 587.76 L417.89 587.16 L418.46 586.56 L419.03 585.96 L419.6 585.35 L420.18 584.75 L420.75 584.15 L421.33 583.55 L421.91 582.94 L422.49 582.34 L423.07 581.74 L423.65 581.14 L424.23 580.54 L424.81 579.93 L425.4 579.33 L425.98 578.73 L426.57 578.13 L427.16 577.52 L427.74 576.92 L428.33 576.32 L428.93 575.72 L429.52 575.11 L430.11 574.51 L430.7 573.91 L431.3 573.31 L431.9 572.7 L432.49 572.1 L433.09 571.5 L433.69 570.9 L434.29 570.3 L434.9 569.69 L435.5 569.09 L436.1 568.49 L436.71 567.89 L437.32 567.28 L437.92 566.68 L438.53 566.08 L439.14 565.48 L439.75 564.87 L440.36 564.27 L440.98 563.67 L441.59 563.07 L442.21 562.46 L442.82 561.86 L443.44 561.26 L444.06 560.66 L444.68 560.06 L445.3 559.45 L445.92 558.85 L446.54 558.25 L447.17 557.65 L447.79 557.04 L448.42 556.44 L449.04 555.84 L449.67 555.24 L450.3 554.63 L450.93 554.03 L451.56 553.43 L452.2 552.83 L452.83 552.22 L453.46 551.62 L454.1 551.02 L454.74 550.42 L455.37 549.81 L456.01 549.21 L456.65 548.61 L457.29 548.01 L457.93 547.41 L458.58 546.8 L459.22 546.2 L459.87 545.6 L460.51 545 L461.16 544.39 L461.81 543.79 L462.46 543.19 L463.11 542.59 L463.76 541.98 L464.41 541.38 L465.06 540.78 L465.72 540.18 L466.37 539.57 L467.03 538.97 L467.69 538.37 L468.34 537.77 L469 537.17 L469.66 536.56 L470.33 535.96 L470.99 535.36 L471.65 534.76 L472.32 534.15 L472.98 533.55 L473.65 532.95 L474.31 532.35 L474.98 531.74 L475.65 531.14 L476.32 530.54 L476.99 529.94 L477.67 529.33 L478.34 528.73 L479.01 528.13 L479.69 527.53 L480.37 526.93 L481.04 526.32 L481.72 525.72 L482.4 525.12 L483.08 524.52 L483.76 523.91 L484.44 523.31 L485.13 522.71 L485.81 522.11 L486.5 521.5 L487.18 520.9 L487.87 520.3 L488.56 519.7 L489.25 519.09 L489.94 518.49 L490.63 517.89 L491.32 517.29 L492.01 516.68 L492.71 516.08 L493.4 515.48 L494.1 514.88 L494.8 514.28 L495.49 513.67 L496.19 513.07 L496.89 512.47 L497.59 511.87 L498.29 511.26 L499 510.66 L499.7 510.06 L500.4 509.46 L501.11 508.85 L501.82 508.25 L502.52 507.65 L503.23 507.05 L503.94 506.44 L504.65 505.84 L505.36 505.24 L506.07 504.64 L506.79 504.04 L507.5 503.43 L508.21 502.83 L508.93 502.23 L509.65 501.63 L510.36 501.02 L511.08 500.42 L511.8 499.82 L512.52 499.22 L513.24 498.61 L513.96 498.01 L514.69 497.41 L515.41 496.81 L516.14 496.2 L516.86 495.6 L517.59 495 L518.31 494.4 L519.04 493.8 L519.77 493.19 L520.5 492.59 L521.23 491.99 L521.97 491.39 L522.7 490.78 L523.43 490.18 L524.17 489.58 L524.9 488.98 L525.64 488.37 L526.38 487.77 L527.11 487.17 L527.85 486.57 L528.59 485.96 L529.33 485.36 L530.07 484.76 L530.82 484.16 L531.56 483.55 L532.31 482.95 L533.05 482.35 L533.8 481.75 L534.54 481.15 L535.29 480.54 L536.04 479.94 L536.79 479.34 L537.54 478.74 L538.29 478.13 L539.04 477.53 L539.8 476.93 L540.55 476.33 L541.3 475.72 L542.06 475.12 L542.82 474.52 L543.57 473.92 L544.33 473.31 L545.09 472.71 L545.85 472.11 L546.61 471.51 L547.37 470.91 L548.13 470.3 L548.9 469.7 L549.66 469.1 L550.42 468.5 L551.19 467.89 L551.96 467.29 L552.72 466.69 L553.49 466.09 L554.26 465.48 L555.03 464.88 L555.8 464.28 L556.57 463.68 L557.34 463.07 L558.12 462.47 L558.89 461.87 L559.67 461.27 L560.44 460.66 L561.22 460.06 L561.99 459.46 L562.77 458.86 L563.55 458.26 L564.33 457.65 L565.11 457.05 L565.89 456.45 L566.67 455.85 L567.46 455.24 L568.24 454.64 L569.02 454.04 L569.81 453.44 L570.59 452.83 L571.38 452.23 L572.17 451.63 L572.96 451.03 L573.75 450.42 L574.54 449.82 L575.33 449.22 L576.12 448.62 L576.91 448.02 L577.7 447.41 L578.5 446.81 L579.29 446.21 L580.09 445.61 L580.88 445 L581.68 444.4 L582.48 443.8 L583.27 443.2 L584.07 442.59 L584.87 441.99 L585.67 441.39 L586.47 440.79 L587.28 440.18 L588.08 439.58 L588.88 438.98 L589.69 438.38 L590.49 437.78 L591.3 437.17 L592.1 436.57 L592.91 435.97 L593.72 435.37 L594.53 434.76 L595.34 434.16 L596.15 433.56 L596.96 432.96 L597.77 432.35 L598.58 431.75 L599.4 431.15 L600.21 430.55 L601.03 429.94 L601.84 429.34 L602.66 428.74 L603.47 428.14 L604.29 427.53 L605.11 426.93 L605.93 426.33 L606.75 425.73 L607.57 425.13 L608.39 424.52 L609.21 423.92 L610.04 423.32 L610.87 422.72 L611.69 422.11 L612.52 421.51 L613.36 420.91 L614.19 420.31 L615.02 419.7 L615.86 419.1 L616.69 418.5 L617.53 417.9 L618.37 417.29 L619.22 416.69 L620.06 416.09 L620.9 415.49 L621.75 414.89 L622.6 414.28 L623.45 413.68 L624.3 413.08 L625.15 412.48 L626 411.87 L626.86 411.27 L627.72 410.67 L628.57 410.07 L629.43 409.46 L630.3 408.86 L631.16 408.26 L632.02 407.66 L632.89 407.05 L633.75 406.45 L634.62 405.85 L635.49 405.25 L636.37 404.65 L637.24 404.04 L638.11 403.44 L638.99 402.84 L639.87 402.24 L640.75 401.63 L641.63 401.03 L642.51 400.43 L643.39 399.83 L644.28 399.22 L645.16 398.62 L646.05 398.02 L646.94 397.42 L647.83 396.81 L648.72 396.21 L649.61 395.61 L650.51 395.01 L651.41 394.4 L652.3 393.8 L653.2 393.2 L654.1 392.6 L655 392 L655.91 391.39 L656.81 390.79 L657.72 390.19 L658.63 389.59 L659.54 388.98 L660.45 388.38 L661.36 387.78 L662.27 387.18 L663.19 386.57 L664.1 385.97 L665.02 385.37 L665.94 384.77 L666.86 384.16 L667.78 383.56 L668.7 382.96 L669.63 382.36 L670.56 381.76 L671.48 381.15 L672.41 380.55 L673.34 379.95 L674.27 379.35 L675.21 378.74 L676.14 378.14 L677.08 377.54 L678.01 376.94 L678.95 376.33 L679.89 375.73 L680.83 375.13 L681.77 374.53 L682.72 373.92 L683.66 373.32 L684.61 372.72 L685.56 372.12 L686.51 371.52 L687.46 370.91 L688.41 370.31 L689.36 369.71 L690.32 369.11 L691.27 368.5 L692.23 367.9 L693.19 367.3 L694.15 366.7 L695.11 366.09 L696.07 365.49 L697.04 364.89 L698 364.29 L698.97 363.68 L699.94 363.08 L700.91 362.48 L701.88 361.88 L702.85 361.27 L703.82 360.67 L704.8 360.07 L705.77 359.47 L706.75 358.87 L707.73 358.26 L708.71 357.66 L709.69 357.06 L710.67 356.46 L711.66 355.85 L712.64 355.25 L713.63 354.65 L714.62 354.05 L715.61 353.44 L716.6 352.84 L717.59 352.24 L718.58 351.64 L719.57 351.03 L720.57 350.43 L721.57 349.83 L722.56 349.23 L723.56 348.63 L724.56 348.02 L725.57 347.42 L726.57 346.82 L727.57 346.22 L728.58 345.61 L729.59 345.01 L730.59 344.41 L731.6 343.81 L732.61 343.2 L733.62 342.6 L734.64 342 L735.65 341.4 L736.67 340.79 L737.68 340.19 L738.7 339.59 L739.72 338.99 L740.74 338.38 L741.76 337.78 L742.79 337.18 L743.81 336.58 L744.84 335.98 L745.86 335.37 L746.89 334.77 L747.92 334.17 L748.95 333.57 L749.98 332.96 L751.02 332.36 L752.05 331.76 L753.09 331.16 L754.12 330.55 L755.16 329.95 L756.2 329.35 L757.24 328.75 L758.28 328.14 L759.32 327.54 L760.37 326.94 L761.41 326.34 L762.46 325.74 L763.5 325.13 L764.55 324.53 L765.6 323.93 L766.65 323.33 L767.71 322.72 L768.76 322.12 L769.81 321.52 L770.87 320.92 L771.93 320.31 L772.98 319.71 L774.04 319.11 L775.1 318.51 L776.16 317.9 L777.23 317.3 L778.29 316.7 L779.36 316.1 L780.42 315.5 L781.49 314.89 L782.56 314.29 L783.63 313.69 L784.7 313.09 L785.77 312.48 L786.84 311.88 L787.92 311.28 L788.99 310.68 L790.07 310.07 L791.15 309.47 L792.22 308.87 L793.3 308.27 L794.39 307.66 L795.47 307.06 L796.55 306.46 L797.64 305.86 L798.72 305.25 L799.81 304.65 L800.89 304.05 L801.98 303.45 L803.07 302.85 L804.16 302.24 L805.26 301.64 L806.35 301.04 L807.44 300.44 L808.54 299.83 L809.64 299.23 L810.73 298.63 L811.83 298.03 L812.93 297.42 L814.03 296.82 L815.14 296.22 L816.24 295.62 L817.34 295.01 L818.45 294.41 L819.56 293.81 L820.66 293.21 L821.77 292.61 L822.88 292 L823.99 291.4 L825.1 290.8 L826.22 290.2 L827.33 289.59 L828.44 288.99 L829.56 288.39 L830.68 287.79 L831.8 287.18 L832.92 286.58 L834.04 285.98 L835.16 285.38 L836.28 284.77 L837.4 284.17 L838.53 283.57 L839.65 282.97 L840.78 282.37 L841.91 281.76 L843.04 281.16 L844.17 280.56 L845.3 279.96 L846.43 279.35 L847.56 278.75 L848.69 278.15 L849.83 277.55 L850.97 276.94 L852.1 276.34 L853.24 275.74 L854.38 275.14 L855.52 274.53 L856.66 273.93 L857.8 273.33 L858.94 272.73 L860.09 272.12 L861.23 271.52 L862.38 270.92 L863.53 270.32 L864.67 269.72 L865.82 269.11 L866.97 268.51 L868.12 267.91 L869.28 267.31 L870.43 266.7 L871.58 266.1 L872.74 265.5 L873.89 264.9 L875.05 264.29 L876.21 263.69 L877.37 263.09 L878.53 262.49 L879.69 261.88 L880.85 261.28 L882.01 260.68 L883.18 260.08 L884.34 259.48 L885.51 258.87 L886.67 258.27 L887.84 257.67 L889.01 257.07 L890.18 256.46 L891.35 255.86 L892.52 255.26 L893.69 254.66 L894.86 254.05 L896.04 253.45 L897.21 252.85 L898.39 252.25 L899.57 251.64 L900.74 251.04 L901.92 250.44 L903.1 249.84 L904.28 249.23 L905.47 248.63 L906.65 248.03 L907.83 247.43 L909.02 246.83 L910.2 246.22 L911.39 245.62 L912.57 245.02 L913.76 244.42 L914.95 243.81 L916.14 243.21 L917.33 242.61 L918.52 242.01 L919.72 241.4 L920.91 240.8 L922.1 240.2 L923.3 239.6 L924.49 238.99 L925.69 238.39 L926.89 237.79"/>
<path stroke="#1f77b4" stroke-width="2.08" fill="none" stroke-dasharray="2.0833 3.4375" d="M207.2 1026.04 L207.33 1025.37 L207.47 1024.71 L207.61 1024.04 L207.75 1023.37 L207.89 1022.71 L208.03 1022.04 L208.17 1021.37 L208.31 1020.71 L208.45 1020.04 L208.59 1019.37 L208.74 1018.7 L208.88 1018.04 L209.03 1017.37 L209.18 1016.7 L209.32 1016.04 L209.47 1015.37 L209.62 1014.7 L209.77 1014.04 L209.92 1013.37 L210.07 1012.7 L210.22 1012.04 L210.38 1011.37 L210.53 1010.7 L210.69 1010.04 L210.84 1009.37 L211 1008.7 L211.15 1008.04 L211.31 1007.37 L211.47 1006.7 L211.63 1006.04 L211.79 1005.37 L211.95 1004.7 L212.11 1004.03 L212.27 1003.37 L212.44 1002.7 L212.6 1002.03 L212.76 1001.37 L212.93 1000.7 L213.1 1000.03 L213.26 999.37 L213.43 998.7 L213.6 998.03 L213.77 997.37 L213.94 996.7 L214.11 996.03 L214.28 995.37 L214.45 994.7 L214.62 994.03 L214.8 993.37 L214.97 992.7 L215.15 992.03 L215.32 991.37 L215.5 990.7 L215.68 990.03 L215.86 989.36 L216.03 988.7 L216.21 988.03 L216.39 987.36 L216.58 986.7 L216.76 986.03 L216.94 985.36 L217.12 984.7 L217.31 984.03 L217.49 983.36 L217.68 982.7 L217.86 982.03 L218.05 981.36 L218.24 980.7 L218.42 980.03 L218.61 979.36 L218.8 978.7 L218.99 978.03 L219.18 977.36 L219.37 976.7 L219.57 976.03 L219.76 975.36 L219.95 974.7 L220.15 974.03 L220.34 973.36 L220.54 972.69 L220.74 972.03 L220.93 971.36 L221.13 970.69 L221.33 970.03 L221.53 969.36 L221.73 968.69 L221.93 968.03 L222.13 967.36 L222.33 966.69 L222.53 966.03 L222.74 965.36 L222.94 964.69 L223.15 964.03 L223.35 963.36 L223.56 962.69 L223.76 962.03 L223.97 961.36 L224.18 960.69 L224.39 960.03"/>
<path stroke="#1f77b4" stroke-width="2.08" fill="none" stroke-dasharray="2.0833 3.4375" d="M929.95 237.79 L931 237.27 L932.06 236.74 L933.11 236.22 L934.17 235.7 L935.22 235.18 L936.28 234.65 L937.34 234.13 L938.4 233.61 L939.46 233.09 L940.52 232.56 L941.58 232.04 L942.64 231.52 L943.71 230.99 L944.77 230.47 L945.84 229.95 L946.9 229.43 L947.97 228.9 L949.03 228.38 L950.1 227.86 L951.17 227.33 L952.24 226.81 L953.31 226.29 L954.38 225.77 L955.45 225.24 L956.53 224.72 L957.6 224.2 L958.68 223.68 L959.75 223.15 L960.83 222.63 L961.9 222.11 L962.98 221.58 L964.06 221.06 L965.14 220.54 L966.22 220.02 L967.3 219.49 L968.38 218.97 L969.46 218.45 L970.55 217.92 L971.63 217.4 L972.71 216.88 L973.8 216.36 L974.89 215.83 L975.97 215.31 L977.06 214.79 L978.15 214.27 L979.24 213.74 L980.33 213.22 L981.42 212.7 L982.51 212.17 L983.6 211.65 L984.7 211.13 L985.79 210.61 L986.88 210.08 L987.98 209.56 L989.08 209.04 L990.17 208.51 L991.27 207.99 L992.37 207.47 L993.47 206.95 L994.57 206.42 L995.67 205.9 L996.77 205.38 L997.87 204.86 L998.97 204.33 L1000.08 203.81 L1001.18 203.29 L1002.29 202.76 L1003.39 202.24 L1004.5 201.72 L1005.61 201.2 L1006.71 200.67 L1007.82 200.15 L1008.93 199.63 L1010.04 199.11 L1011.15 198.58 L1012.26 198.06 L1013.38 197.54 L1014.49 197.01 L1015.6 196.49 L1016.72 195.97 L1017.83 195.45 L1018.95 194.92 L1020.06 194.4 L1021.18 193.88 L1022.3 193.35 L1023.42 192.83 L1024.54 192.31 L1025.65 191.79 L1026.78 191.26 L1027.9 190.74 L1029.02 190.22 L1030.14 189.7 L1031.26 189.17 L1032.39 188.65 L1033.51 188.13 L1034.64 187.6 L1035.76 187.08 L1036.89 186.56 L1038.02 186.04"/>
<path stroke="#ff0000" stroke-width="2.08" fill="none" stroke-dasharray="7.7083 3.3333" d="M150 960H1080"/>
<path stroke="#ff0000" stroke-width="2.08" fill="none" stroke-dasharray="7.7083 3.3333" d="M150 238H1080"/>
</g>
<path stroke="#000" stroke-opacity="0.055" stroke-width="1" fill="none" d="M150 143.5H1081 M151 145.5H1080 M151 1067.5H1080 M150 1069.5H1081"/>
<path stroke="#000" stroke-width="1.11" fill="none" stroke-linecap="square" d="M150.5 1068.5V144.5H1080.5V1068.5Z"/>
<rect x="163.5" y="157.5" width="237" height="80" rx="5" fill="#fff" fill-opacity="0.8" stroke="#ccc" stroke-opacity="0.8" stroke-width="1.11"/>
<path stroke="#1f77b4" stroke-width="2.08" stroke-linecap="square" d="M173 177H223"/>
<path stroke="#ff7f0e" stroke-width="2.08" stroke-linecap="square" d="M173 213H223"/>
<text transform="translate(0 105.000) scale(0.9510 1)" x="419.73 448.39 478.85 506.16 521.41 542.30 558.48 583.24 605.42 632.12 647.07 654.89 673.94 699.30 712.77 734.33 750.45 767.74 793.53 818.96 832.47 859.27" y="0" font-size="41.936">BDR-y psnr: 7.5 (85.9)</text>
<text transform="translate(0 1171.000) scale(1.0437 1)" x="469.53 496.51 507.57 521.98 534.16 559.70 572.71 593.70 607.67 628.86 652.32 663.38 676.91 688.41" y="0" font-size="41.024">Bitrate kbit/s</text>
<text transform="translate(37.000 666.000) rotate(-90) scale(1.0710 1)" x="-0.04 19.47 33.24 55.57 75.47 99.61" y="0" font-size="39.163" stroke="#000" stroke-width="0.037">y psnr</text>
<text transform="translate(0 1034.000) scale(0.9554 1)" x="90.90 106.67 122.79 131.11" y="0" font-size="26.490">32.5</text>
<text transform="translate(0 928.000) scale(0.9668 1)" x="89.81 105.78 121.64 130.03" y="0" font-size="26.490" stroke="#000" stroke-width="0.036">35.0</text>
<text transform="translate(0 823.000) scale(0.9598 1)" x="90.46 106.44 122.22 130.49" y="0" font-size="26.490" stroke="#000" stroke-width="0.039">37.5</text>
<text transform="translate(0 717.000) scale(0.9965 1)" x="85.58 101.31 116.78 124.89" y="0" font-size="26.490" stroke="#000" stroke-width="0.223">40.0</text>
<text transform="translate(0 611.000) scale(0.9685 1)" x="88.34 104.35 120.62 129.09" y="0" font-size="26.490" stroke="#000" stroke-width="0.109">42.5</text>
<text transform="translate(0 505.000) scale(0.9794 1)" x="87.21 103.11 118.88 127.20" y="0" font-size="26.490" stroke="#000" stroke-width="0.145">45.0</text>
<text transform="translate(0 400.000) scale(0.9727 1)" x="87.79 103.70 119.40 127.59" y="0" font-size="26.490" stroke="#000" stroke-width="0.168">47.5</text>
<text transform="translate(0 294.000) scale(0.9791 1)" x="88.44 104.44 120.05 128.30" y="0" font-size="26.490" stroke="#000" stroke-width="0.136">50.0</text>
<text transform="translate(0 188.000) scale(0.9502 1)" x="91.29 107.29 123.48 131.87" y="0" font-size="26.490" stroke="#000" stroke-width="0.015">52.5</text>
<text transform="translate(0 1097.000) scale(0.9862 1)" x="200.18 216.33 232.15 247.98" y="0" font-size="26.490" stroke="#000" stroke-width="0.168">2000</text>
<text transform="translate(0 1097.000) scale(0.9949 1)" x="334.02 349.82 365.61 381.40" y="0" font-size="26.490" stroke="#000" stroke-width="0.213">4000</text>
<text transform="translate(0 1097.000) scale(1.0033 1)" x="466.14 481.67 497.20 512.74" y="0" font-size="26.490" stroke="#000" stroke-width="0.157">6000</text>
<text transform="translate(0 1097.000) scale(0.9975 1)" x="604.28 619.89 635.50 651.11" y="0" font-size="26.490" stroke="#000" stroke-width="0.189">8000</text>
<text transform="translate(0 1097.000) scale(0.9866 1)" x="739.61 755.63 771.51 787.39 803.27" y="0" font-size="26.490" stroke="#000" stroke-width="0.199">10000</text>
<text transform="translate(0 1097.000) scale(0.9795 1)" x="882.87 898.67 915.00 931.00 946.99" y="0" font-size="26.490" stroke="#000" stroke-width="0.182">12000</text>
<text transform="translate(0 1097.000) scale(0.9867 1)" x="1013.15 1029.16 1045.04 1060.92 1076.80" y="0" font-size="26.490" stroke="#000" stroke-width="0.226">14000</text>
<text transform="translate(0 186.000) scale(0.9538 1)" x="254.72 272.60 288.49 297.13 315.42 331.97 348.24 357.90 374.79 391.23" y="0" font-size="26.490" stroke="#000" stroke-width="0.028">S3-A22-265</text>
<text transform="translate(0 222.000) scale(0.9483 1)" x="256.25 274.22 290.18 296.85 313.52 330.53 346.50 354.98 372.04 388.36" y="0" font-size="26.490">S3-T23-ETM</text>
</svg>
</body></html>
